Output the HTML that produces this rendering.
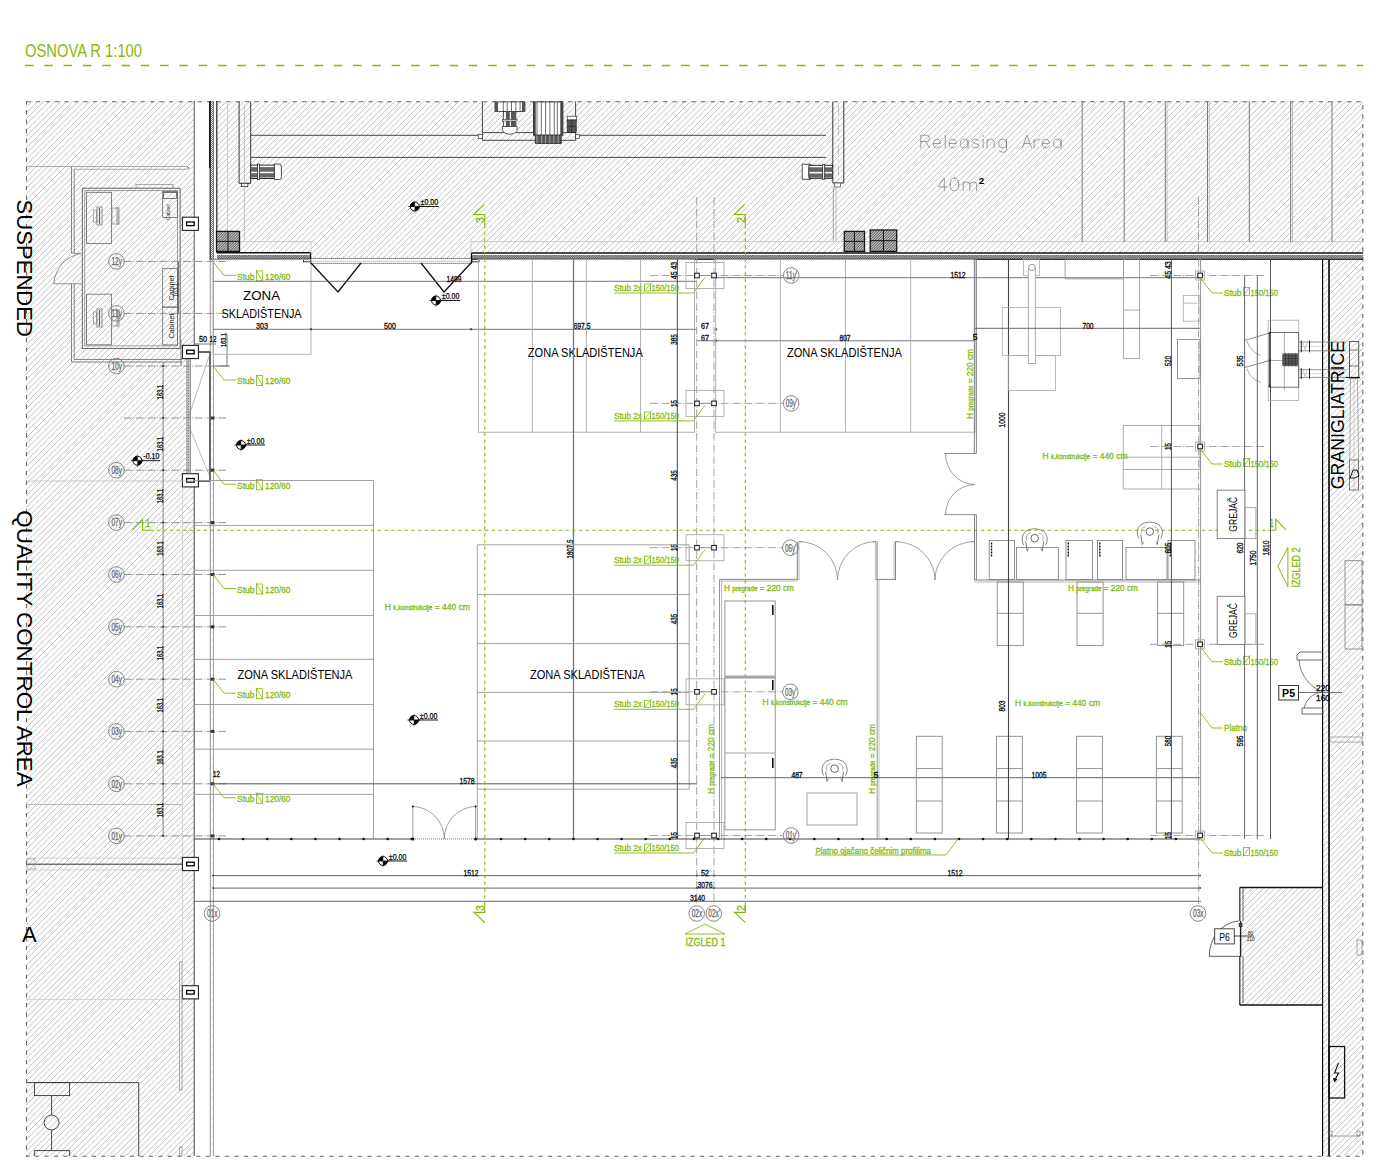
<!DOCTYPE html>
<html><head><meta charset="utf-8"><style>
html,body{margin:0;padding:0;background:#fff;width:1388px;height:1170px;overflow:hidden}
svg{display:block}
text{font-family:"Liberation Sans",sans-serif}
</style></head><body>
<svg width="1388" height="1170" viewBox="0 0 1388 1170">
<rect width="1388" height="1170" fill="#fff"/>
<text x="25" y="57" font-size="18" fill="#83b90b" text-anchor="start" textLength="117" lengthAdjust="spacingAndGlyphs" stroke="none">OSNOVA R 1:100</text>
<line x1="25" y1="65.5" x2="1363" y2="65.5" stroke="#83b90b" stroke-width="1.3" stroke-dasharray="8.5 10.8"/>
<path d="M26.00 101.60L26.60 101.00M26.00 107.40L32.40 101.00M26.00 113.20L38.20 101.00M26.00 119.00L44.00 101.00M26.00 124.80L49.80 101.00M26.00 130.60L55.60 101.00M26.00 136.40L61.40 101.00M26.00 142.20L67.20 101.00M26.00 148.00L73.00 101.00M26.00 153.80L78.80 101.00M26.00 159.60L84.60 101.00M26.00 165.40L90.40 101.00M26.00 171.20L96.20 101.00M26.00 177.00L102.00 101.00M26.00 182.80L107.80 101.00M26.00 188.60L113.60 101.00M26.00 194.40L119.40 101.00M26.00 200.20L125.20 101.00M26.00 206.00L131.00 101.00M26.00 211.80L136.80 101.00M26.00 217.60L142.60 101.00M26.00 223.40L148.40 101.00M26.00 229.20L154.20 101.00M26.00 235.00L160.00 101.00M26.00 240.80L165.80 101.00M26.00 246.60L171.60 101.00M26.00 252.40L177.40 101.00M26.00 258.20L183.20 101.00M26.00 264.00L189.00 101.00M26.00 269.80L194.00 101.80M26.00 275.60L194.00 107.60M26.00 281.40L194.00 113.40M26.00 287.20L194.00 119.20M26.00 293.00L194.00 125.00M26.00 298.80L194.00 130.80M26.00 304.60L194.00 136.60M26.00 310.40L194.00 142.40M26.00 316.20L194.00 148.20M26.00 322.00L194.00 154.00M26.00 327.80L194.00 159.80M26.00 333.60L194.00 165.60M26.00 339.40L194.00 171.40M26.00 345.20L194.00 177.20M26.00 351.00L194.00 183.00M26.00 356.80L194.00 188.80M26.00 362.60L194.00 194.60M26.00 368.40L194.00 200.40M26.00 374.20L194.00 206.20M26.00 380.00L194.00 212.00M26.00 385.80L194.00 217.80M26.00 391.60L194.00 223.60M26.00 397.40L194.00 229.40M26.00 403.20L194.00 235.20M26.00 409.00L194.00 241.00M26.00 414.80L194.00 246.80M26.00 420.60L194.00 252.60M26.00 426.40L194.00 258.40M26.00 432.20L194.00 264.20M26.00 438.00L194.00 270.00M26.00 443.80L194.00 275.80M26.00 449.60L194.00 281.60M26.00 455.40L194.00 287.40M26.00 461.20L194.00 293.20M26.00 467.00L194.00 299.00M26.00 472.80L194.00 304.80M26.00 478.60L194.00 310.60M26.00 484.40L194.00 316.40M26.00 490.20L194.00 322.20M26.00 496.00L194.00 328.00M26.00 501.80L194.00 333.80M26.00 507.60L194.00 339.60M26.00 513.40L194.00 345.40M26.00 519.20L194.00 351.20M26.00 525.00L194.00 357.00M26.00 530.80L194.00 362.80M26.00 536.60L194.00 368.60M26.00 542.40L194.00 374.40M26.00 548.20L194.00 380.20M26.00 554.00L194.00 386.00M26.00 559.80L194.00 391.80M26.00 565.60L194.00 397.60M26.00 571.40L194.00 403.40M26.00 577.20L194.00 409.20M26.00 583.00L194.00 415.00M26.00 588.80L194.00 420.80M26.00 594.60L194.00 426.60M26.00 600.40L194.00 432.40M26.00 606.20L194.00 438.20M26.00 612.00L194.00 444.00M26.00 617.80L194.00 449.80M26.00 623.60L194.00 455.60M26.00 629.40L194.00 461.40M26.00 635.20L194.00 467.20M26.00 641.00L194.00 473.00M26.00 646.80L194.00 478.80M26.00 652.60L194.00 484.60M26.00 658.40L194.00 490.40M26.00 664.20L194.00 496.20M26.00 670.00L194.00 502.00M26.00 675.80L194.00 507.80M26.00 681.60L194.00 513.60M26.00 687.40L194.00 519.40M26.00 693.20L194.00 525.20M26.00 699.00L194.00 531.00M26.00 704.80L194.00 536.80M26.00 710.60L194.00 542.60M26.00 716.40L194.00 548.40M26.00 722.20L194.00 554.20M26.00 728.00L194.00 560.00M26.00 733.80L194.00 565.80M26.00 739.60L194.00 571.60M26.00 745.40L194.00 577.40M26.00 751.20L194.00 583.20M26.00 757.00L194.00 589.00M26.00 762.80L194.00 594.80M26.00 768.60L194.00 600.60M26.00 774.40L194.00 606.40M26.00 780.20L194.00 612.20M26.00 786.00L194.00 618.00M26.00 791.80L194.00 623.80M26.00 797.60L194.00 629.60M26.00 803.40L194.00 635.40M26.00 809.20L194.00 641.20M26.00 815.00L194.00 647.00M26.00 820.80L194.00 652.80M26.00 826.60L194.00 658.60M26.00 832.40L194.00 664.40M26.00 838.20L194.00 670.20M26.00 844.00L194.00 676.00M26.00 849.80L194.00 681.80M26.00 855.60L194.00 687.60M26.00 861.40L194.00 693.40M26.00 867.20L194.00 699.20M26.00 873.00L194.00 705.00M26.00 878.80L194.00 710.80M26.00 884.60L194.00 716.60M26.00 890.40L194.00 722.40M26.00 896.20L194.00 728.20M26.00 902.00L194.00 734.00M26.00 907.80L194.00 739.80M26.00 913.60L194.00 745.60M26.00 919.40L194.00 751.40M26.00 925.20L194.00 757.20M26.00 931.00L194.00 763.00M26.00 936.80L194.00 768.80M26.00 942.60L194.00 774.60M26.00 948.40L194.00 780.40M26.00 954.20L194.00 786.20M26.00 960.00L194.00 792.00M26.00 965.80L194.00 797.80M26.00 971.60L194.00 803.60M26.00 977.40L194.00 809.40M26.00 983.20L194.00 815.20M26.00 989.00L194.00 821.00M26.00 994.80L194.00 826.80M26.00 1000.60L194.00 832.60M26.00 1006.40L194.00 838.40M26.00 1012.20L194.00 844.20M26.00 1018.00L194.00 850.00M26.00 1023.80L194.00 855.80M26.00 1029.60L194.00 861.60M26.00 1035.40L194.00 867.40M26.00 1041.20L194.00 873.20M26.00 1047.00L194.00 879.00M26.00 1052.80L194.00 884.80M26.00 1058.60L194.00 890.60M26.00 1064.40L194.00 896.40M26.00 1070.20L194.00 902.20M26.00 1076.00L194.00 908.00M26.00 1081.80L194.00 913.80M26.00 1087.60L194.00 919.60M26.00 1093.40L194.00 925.40M26.00 1099.20L194.00 931.20M26.00 1105.00L194.00 937.00M26.00 1110.80L194.00 942.80M26.00 1116.60L194.00 948.60M26.00 1122.40L194.00 954.40M26.00 1128.20L194.00 960.20M26.00 1134.00L194.00 966.00M26.00 1139.80L194.00 971.80M26.00 1145.60L194.00 977.60M26.00 1151.40L194.00 983.40M27.20 1156.00L194.00 989.20M33.00 1156.00L194.00 995.00M38.80 1156.00L194.00 1000.80M44.60 1156.00L194.00 1006.60M50.40 1156.00L194.00 1012.40M56.20 1156.00L194.00 1018.20M62.00 1156.00L194.00 1024.00M67.80 1156.00L194.00 1029.80M73.60 1156.00L194.00 1035.60M79.40 1156.00L194.00 1041.40M85.20 1156.00L194.00 1047.20M91.00 1156.00L194.00 1053.00M96.80 1156.00L194.00 1058.80M102.60 1156.00L194.00 1064.60M108.40 1156.00L194.00 1070.40M114.20 1156.00L194.00 1076.20M120.00 1156.00L194.00 1082.00M125.80 1156.00L194.00 1087.80M131.60 1156.00L194.00 1093.60M137.40 1156.00L194.00 1099.40M143.20 1156.00L194.00 1105.20M149.00 1156.00L194.00 1111.00M154.80 1156.00L194.00 1116.80M160.60 1156.00L194.00 1122.60M166.40 1156.00L194.00 1128.40M172.20 1156.00L194.00 1134.20M178.00 1156.00L194.00 1140.00M183.80 1156.00L194.00 1145.80M189.60 1156.00L194.00 1151.60" stroke="#b0b0b0" stroke-width="0.8" fill="none"/>
<path d="M217.00 105.20L221.20 101.00M217.00 111.00L227.00 101.00M217.00 116.80L232.80 101.00M217.00 122.60L238.60 101.00M217.00 128.40L244.40 101.00M217.00 134.20L250.20 101.00M217.00 140.00L256.00 101.00M217.00 145.80L261.80 101.00M217.00 151.60L267.60 101.00M217.00 157.40L273.40 101.00M217.00 163.20L279.20 101.00M217.00 169.00L285.00 101.00M217.00 174.80L290.80 101.00M217.00 180.60L296.60 101.00M217.00 186.40L302.40 101.00M217.00 192.20L308.20 101.00M217.00 198.00L314.00 101.00M217.00 203.80L319.80 101.00M217.00 209.60L325.60 101.00M217.00 215.40L331.40 101.00M217.00 221.20L337.20 101.00M217.00 227.00L343.00 101.00M217.00 232.80L348.80 101.00M217.00 238.60L354.60 101.00M217.00 244.40L360.40 101.00M217.00 250.20L366.20 101.00M220.00 253.00L372.00 101.00M225.80 253.00L377.80 101.00M231.60 253.00L383.60 101.00M237.40 253.00L389.40 101.00M243.20 253.00L395.20 101.00M249.00 253.00L401.00 101.00M254.80 253.00L406.80 101.00M260.60 253.00L412.60 101.00M266.40 253.00L418.40 101.00M272.20 253.00L424.20 101.00M278.00 253.00L430.00 101.00M283.80 253.00L435.80 101.00M289.60 253.00L441.60 101.00M295.40 253.00L447.40 101.00M301.20 253.00L453.20 101.00M307.00 253.00L459.00 101.00M312.80 253.00L464.80 101.00M318.60 253.00L470.60 101.00M324.40 253.00L476.40 101.00M330.20 253.00L482.20 101.00M336.00 253.00L488.00 101.00M341.80 253.00L493.80 101.00M347.60 253.00L499.60 101.00M353.40 253.00L505.40 101.00M359.20 253.00L511.20 101.00M365.00 253.00L517.00 101.00M370.80 253.00L522.80 101.00M376.60 253.00L528.60 101.00M382.40 253.00L534.40 101.00M388.20 253.00L540.20 101.00M394.00 253.00L546.00 101.00M399.80 253.00L551.80 101.00M405.60 253.00L557.60 101.00M411.40 253.00L563.40 101.00M417.20 253.00L569.20 101.00M423.00 253.00L575.00 101.00M428.80 253.00L580.80 101.00M434.60 253.00L586.60 101.00M440.40 253.00L592.40 101.00M446.20 253.00L598.20 101.00M452.00 253.00L604.00 101.00M457.80 253.00L609.80 101.00M463.60 253.00L615.60 101.00M469.40 253.00L621.40 101.00M475.20 253.00L627.20 101.00M481.00 253.00L633.00 101.00M486.80 253.00L638.80 101.00M492.60 253.00L644.60 101.00M498.40 253.00L650.40 101.00M504.20 253.00L656.20 101.00M510.00 253.00L662.00 101.00M515.80 253.00L667.80 101.00M521.60 253.00L673.60 101.00M527.40 253.00L679.40 101.00M533.20 253.00L685.20 101.00M539.00 253.00L691.00 101.00M544.80 253.00L696.80 101.00M550.60 253.00L702.60 101.00M556.40 253.00L708.40 101.00M562.20 253.00L714.20 101.00M568.00 253.00L720.00 101.00M573.80 253.00L725.80 101.00M579.60 253.00L731.60 101.00M585.40 253.00L737.40 101.00M591.20 253.00L743.20 101.00M597.00 253.00L749.00 101.00M602.80 253.00L754.80 101.00M608.60 253.00L760.60 101.00M614.40 253.00L766.40 101.00M620.20 253.00L772.20 101.00M626.00 253.00L778.00 101.00M631.80 253.00L783.80 101.00M637.60 253.00L789.60 101.00M643.40 253.00L795.40 101.00M649.20 253.00L801.20 101.00M655.00 253.00L807.00 101.00M660.80 253.00L812.80 101.00M666.60 253.00L818.60 101.00M672.40 253.00L824.40 101.00M678.20 253.00L830.20 101.00M684.00 253.00L836.00 101.00M689.80 253.00L841.80 101.00M695.60 253.00L847.60 101.00M701.40 253.00L853.40 101.00M707.20 253.00L859.20 101.00M713.00 253.00L865.00 101.00M718.80 253.00L870.80 101.00M724.60 253.00L876.60 101.00M730.40 253.00L882.40 101.00M736.20 253.00L888.20 101.00M742.00 253.00L894.00 101.00M747.80 253.00L899.80 101.00M753.60 253.00L905.60 101.00M759.40 253.00L911.40 101.00M765.20 253.00L917.20 101.00M771.00 253.00L923.00 101.00M776.80 253.00L928.80 101.00M782.60 253.00L934.60 101.00M788.40 253.00L940.40 101.00M794.20 253.00L946.20 101.00M800.00 253.00L952.00 101.00M805.80 253.00L957.80 101.00M811.60 253.00L963.60 101.00M817.40 253.00L969.40 101.00M823.20 253.00L975.20 101.00M829.00 253.00L981.00 101.00M834.80 253.00L986.80 101.00M840.60 253.00L992.60 101.00M846.40 253.00L998.40 101.00M852.20 253.00L1004.20 101.00M858.00 253.00L1010.00 101.00M863.80 253.00L1015.80 101.00M869.60 253.00L1021.60 101.00M875.40 253.00L1027.40 101.00M881.20 253.00L1033.20 101.00M887.00 253.00L1039.00 101.00M892.80 253.00L1044.80 101.00M898.60 253.00L1050.60 101.00M904.40 253.00L1056.40 101.00M910.20 253.00L1062.20 101.00M916.00 253.00L1068.00 101.00M921.80 253.00L1073.80 101.00M927.60 253.00L1079.60 101.00M933.40 253.00L1085.40 101.00M939.20 253.00L1091.20 101.00M945.00 253.00L1097.00 101.00M950.80 253.00L1102.80 101.00M956.60 253.00L1108.60 101.00M962.40 253.00L1114.40 101.00M968.20 253.00L1120.20 101.00M974.00 253.00L1126.00 101.00M979.80 253.00L1131.80 101.00M985.60 253.00L1137.60 101.00M991.40 253.00L1143.40 101.00M997.20 253.00L1149.20 101.00M1003.00 253.00L1155.00 101.00M1008.80 253.00L1160.80 101.00M1014.60 253.00L1166.60 101.00M1020.40 253.00L1172.40 101.00M1026.20 253.00L1178.20 101.00M1032.00 253.00L1184.00 101.00M1037.80 253.00L1189.80 101.00M1043.60 253.00L1195.60 101.00M1049.40 253.00L1201.40 101.00M1055.20 253.00L1207.20 101.00M1061.00 253.00L1213.00 101.00M1066.80 253.00L1218.80 101.00M1072.60 253.00L1224.60 101.00M1078.40 253.00L1230.40 101.00M1084.20 253.00L1236.20 101.00M1090.00 253.00L1242.00 101.00M1095.80 253.00L1247.80 101.00M1101.60 253.00L1253.60 101.00M1107.40 253.00L1259.40 101.00M1113.20 253.00L1265.20 101.00M1119.00 253.00L1271.00 101.00M1124.80 253.00L1276.80 101.00M1130.60 253.00L1282.60 101.00M1136.40 253.00L1288.40 101.00M1142.20 253.00L1294.20 101.00M1148.00 253.00L1300.00 101.00M1153.80 253.00L1305.80 101.00M1159.60 253.00L1311.60 101.00M1165.40 253.00L1317.40 101.00M1171.20 253.00L1323.20 101.00M1177.00 253.00L1329.00 101.00M1182.80 253.00L1334.80 101.00M1188.60 253.00L1340.60 101.00M1194.40 253.00L1346.40 101.00M1200.20 253.00L1352.20 101.00M1206.00 253.00L1358.00 101.00M1211.80 253.00L1363.00 101.80M1217.60 253.00L1363.00 107.60M1223.40 253.00L1363.00 113.40M1229.20 253.00L1363.00 119.20M1235.00 253.00L1363.00 125.00M1240.80 253.00L1363.00 130.80M1246.60 253.00L1363.00 136.60M1252.40 253.00L1363.00 142.40M1258.20 253.00L1363.00 148.20M1264.00 253.00L1363.00 154.00M1269.80 253.00L1363.00 159.80M1275.60 253.00L1363.00 165.60M1281.40 253.00L1363.00 171.40M1287.20 253.00L1363.00 177.20M1293.00 253.00L1363.00 183.00M1298.80 253.00L1363.00 188.80M1304.60 253.00L1363.00 194.60M1310.40 253.00L1363.00 200.40M1316.20 253.00L1363.00 206.20M1322.00 253.00L1363.00 212.00M1327.80 253.00L1363.00 217.80M1333.60 253.00L1363.00 223.60M1339.40 253.00L1363.00 229.40M1345.20 253.00L1363.00 235.20M1351.00 253.00L1363.00 241.00M1356.80 253.00L1363.00 246.80M1362.60 253.00L1363.00 252.60" stroke="#b0b0b0" stroke-width="0.8" fill="none"/>
<path d="M1323.00 260.40L1324.40 259.00M1323.00 266.20L1330.20 259.00M1323.00 272.00L1336.00 259.00M1323.00 277.80L1341.80 259.00M1323.00 283.60L1347.60 259.00M1323.00 289.40L1353.40 259.00M1323.00 295.20L1359.20 259.00M1323.00 301.00L1363.00 261.00M1323.00 306.80L1363.00 266.80M1323.00 312.60L1363.00 272.60M1323.00 318.40L1363.00 278.40M1323.00 324.20L1363.00 284.20M1323.00 330.00L1363.00 290.00M1323.00 335.80L1363.00 295.80M1323.00 341.60L1363.00 301.60M1323.00 347.40L1363.00 307.40M1323.00 353.20L1363.00 313.20M1323.00 359.00L1363.00 319.00M1323.00 364.80L1363.00 324.80M1323.00 370.60L1363.00 330.60M1323.00 376.40L1363.00 336.40M1323.00 382.20L1363.00 342.20M1323.00 388.00L1363.00 348.00M1323.00 393.80L1363.00 353.80M1323.00 399.60L1363.00 359.60M1323.00 405.40L1363.00 365.40M1323.00 411.20L1363.00 371.20M1323.00 417.00L1363.00 377.00M1323.00 422.80L1363.00 382.80M1323.00 428.60L1363.00 388.60M1323.00 434.40L1363.00 394.40M1323.00 440.20L1363.00 400.20M1323.00 446.00L1363.00 406.00M1323.00 451.80L1363.00 411.80M1323.00 457.60L1363.00 417.60M1323.00 463.40L1363.00 423.40M1323.00 469.20L1363.00 429.20M1323.00 475.00L1363.00 435.00M1323.00 480.80L1363.00 440.80M1323.00 486.60L1363.00 446.60M1323.00 492.40L1363.00 452.40M1323.00 498.20L1363.00 458.20M1323.00 504.00L1363.00 464.00M1323.00 509.80L1363.00 469.80M1323.00 515.60L1363.00 475.60M1323.00 521.40L1363.00 481.40M1323.00 527.20L1363.00 487.20M1323.00 533.00L1363.00 493.00M1323.00 538.80L1363.00 498.80M1323.00 544.60L1363.00 504.60M1323.00 550.40L1363.00 510.40M1323.00 556.20L1363.00 516.20M1323.00 562.00L1363.00 522.00M1323.00 567.80L1363.00 527.80M1323.00 573.60L1363.00 533.60M1323.00 579.40L1363.00 539.40M1323.00 585.20L1363.00 545.20M1323.00 591.00L1363.00 551.00M1323.00 596.80L1363.00 556.80M1323.00 602.60L1363.00 562.60M1323.00 608.40L1363.00 568.40M1323.00 614.20L1363.00 574.20M1323.00 620.00L1363.00 580.00M1323.00 625.80L1363.00 585.80M1323.00 631.60L1363.00 591.60M1323.00 637.40L1363.00 597.40M1323.00 643.20L1363.00 603.20M1323.00 649.00L1363.00 609.00M1323.00 654.80L1363.00 614.80M1323.00 660.60L1363.00 620.60M1323.00 666.40L1363.00 626.40M1323.00 672.20L1363.00 632.20M1323.00 678.00L1363.00 638.00M1323.00 683.80L1363.00 643.80M1323.00 689.60L1363.00 649.60M1323.00 695.40L1363.00 655.40M1323.00 701.20L1363.00 661.20M1323.00 707.00L1363.00 667.00M1323.00 712.80L1363.00 672.80M1323.00 718.60L1363.00 678.60M1323.00 724.40L1363.00 684.40M1323.00 730.20L1363.00 690.20M1323.00 736.00L1363.00 696.00M1323.00 741.80L1363.00 701.80M1323.00 747.60L1363.00 707.60M1323.00 753.40L1363.00 713.40M1323.00 759.20L1363.00 719.20M1323.00 765.00L1363.00 725.00M1323.00 770.80L1363.00 730.80M1323.00 776.60L1363.00 736.60M1323.00 782.40L1363.00 742.40M1323.00 788.20L1363.00 748.20M1323.00 794.00L1363.00 754.00M1323.00 799.80L1363.00 759.80M1323.00 805.60L1363.00 765.60M1323.00 811.40L1363.00 771.40M1323.00 817.20L1363.00 777.20M1323.00 823.00L1363.00 783.00M1323.00 828.80L1363.00 788.80M1323.00 834.60L1363.00 794.60M1323.00 840.40L1363.00 800.40M1323.00 846.20L1363.00 806.20M1323.00 852.00L1363.00 812.00M1323.00 857.80L1363.00 817.80M1323.00 863.60L1363.00 823.60M1323.00 869.40L1363.00 829.40M1323.00 875.20L1363.00 835.20M1323.00 881.00L1363.00 841.00M1323.00 886.80L1363.00 846.80M1323.00 892.60L1363.00 852.60M1323.00 898.40L1363.00 858.40M1323.00 904.20L1363.00 864.20M1323.00 910.00L1363.00 870.00M1323.00 915.80L1363.00 875.80M1323.00 921.60L1363.00 881.60M1323.00 927.40L1363.00 887.40M1323.00 933.20L1363.00 893.20M1323.00 939.00L1363.00 899.00M1323.00 944.80L1363.00 904.80M1323.00 950.60L1363.00 910.60M1323.00 956.40L1363.00 916.40M1323.00 962.20L1363.00 922.20M1323.00 968.00L1363.00 928.00M1323.00 973.80L1363.00 933.80M1323.00 979.60L1363.00 939.60M1323.00 985.40L1363.00 945.40M1323.00 991.20L1363.00 951.20M1323.00 997.00L1363.00 957.00M1323.00 1002.80L1363.00 962.80M1323.00 1008.60L1363.00 968.60M1323.00 1014.40L1363.00 974.40M1323.00 1020.20L1363.00 980.20M1323.00 1026.00L1363.00 986.00M1323.00 1031.80L1363.00 991.80M1323.00 1037.60L1363.00 997.60M1323.00 1043.40L1363.00 1003.40M1323.00 1049.20L1363.00 1009.20M1323.00 1055.00L1363.00 1015.00M1323.00 1060.80L1363.00 1020.80M1323.00 1066.60L1363.00 1026.60M1323.00 1072.40L1363.00 1032.40M1323.00 1078.20L1363.00 1038.20M1323.00 1084.00L1363.00 1044.00M1323.00 1089.80L1363.00 1049.80M1323.00 1095.60L1363.00 1055.60M1323.00 1101.40L1363.00 1061.40M1323.00 1107.20L1363.00 1067.20M1323.00 1113.00L1363.00 1073.00M1323.00 1118.80L1363.00 1078.80M1323.00 1124.60L1363.00 1084.60M1323.00 1130.40L1363.00 1090.40M1323.00 1136.20L1363.00 1096.20M1323.00 1142.00L1363.00 1102.00M1323.00 1147.80L1363.00 1107.80M1323.00 1153.60L1363.00 1113.60M1326.40 1156.00L1363.00 1119.40M1332.20 1156.00L1363.00 1125.20M1338.00 1156.00L1363.00 1131.00M1343.80 1156.00L1363.00 1136.80M1349.60 1156.00L1363.00 1142.60M1355.40 1156.00L1363.00 1148.40M1361.20 1156.00L1363.00 1154.20" stroke="#b0b0b0" stroke-width="0.8" fill="none"/>
<path d="M1240.00 888.60L1241.60 887.00M1240.00 894.40L1247.40 887.00M1240.00 900.20L1253.20 887.00M1240.00 906.00L1259.00 887.00M1240.00 911.80L1264.80 887.00M1240.00 917.60L1270.60 887.00M1240.00 923.40L1276.40 887.00M1240.00 929.20L1282.20 887.00M1240.00 935.00L1288.00 887.00M1240.00 940.80L1293.80 887.00M1240.00 946.60L1299.60 887.00M1240.00 952.40L1305.40 887.00M1240.00 958.20L1311.20 887.00M1240.00 964.00L1317.00 887.00M1240.00 969.80L1322.80 887.00M1240.00 975.60L1323.00 892.60M1240.00 981.40L1323.00 898.40M1240.00 987.20L1323.00 904.20M1240.00 993.00L1323.00 910.00M1240.00 998.80L1323.00 915.80M1240.00 1004.60L1323.00 921.60M1245.40 1005.00L1323.00 927.40M1251.20 1005.00L1323.00 933.20M1257.00 1005.00L1323.00 939.00M1262.80 1005.00L1323.00 944.80M1268.60 1005.00L1323.00 950.60M1274.40 1005.00L1323.00 956.40M1280.20 1005.00L1323.00 962.20M1286.00 1005.00L1323.00 968.00M1291.80 1005.00L1323.00 973.80M1297.60 1005.00L1323.00 979.60M1303.40 1005.00L1323.00 985.40M1309.20 1005.00L1323.00 991.20M1315.00 1005.00L1323.00 997.00M1320.80 1005.00L1323.00 1002.80" stroke="#b0b0b0" stroke-width="0.8" fill="none"/>
<path d="M210.00 102.00L211.00 101.00M210.00 104.00L213.00 101.00M210.00 106.00L213.50 102.50M210.00 108.00L213.50 104.50M210.00 110.00L213.50 106.50M210.00 112.00L213.50 108.50M210.00 114.00L213.50 110.50M210.00 116.00L213.50 112.50M210.00 118.00L213.50 114.50M210.00 120.00L213.50 116.50M210.00 122.00L213.50 118.50M210.00 124.00L213.50 120.50M210.00 126.00L213.50 122.50M210.00 128.00L213.50 124.50M210.00 130.00L213.50 126.50M210.00 132.00L213.50 128.50M210.00 134.00L213.50 130.50M210.00 136.00L213.50 132.50M210.00 138.00L213.50 134.50M210.00 140.00L213.50 136.50M210.00 142.00L213.50 138.50M210.00 144.00L213.50 140.50M210.00 146.00L213.50 142.50M210.00 148.00L213.50 144.50M210.00 150.00L213.50 146.50M210.00 152.00L213.50 148.50M210.00 154.00L213.50 150.50M210.00 156.00L213.50 152.50M210.00 158.00L213.50 154.50M210.00 160.00L213.50 156.50M210.00 162.00L213.50 158.50M210.00 164.00L213.50 160.50M210.00 166.00L213.50 162.50M210.00 168.00L213.50 164.50M210.00 170.00L213.50 166.50M210.00 172.00L213.50 168.50M210.00 174.00L213.50 170.50M210.00 176.00L213.50 172.50M210.00 178.00L213.50 174.50M210.00 180.00L213.50 176.50M210.00 182.00L213.50 178.50M210.00 184.00L213.50 180.50M210.00 186.00L213.50 182.50M210.00 188.00L213.50 184.50M210.00 190.00L213.50 186.50M210.00 192.00L213.50 188.50M210.00 194.00L213.50 190.50M210.00 196.00L213.50 192.50M210.00 198.00L213.50 194.50M210.00 200.00L213.50 196.50M210.00 202.00L213.50 198.50M210.00 204.00L213.50 200.50M210.00 206.00L213.50 202.50M210.00 208.00L213.50 204.50M210.00 210.00L213.50 206.50M210.00 212.00L213.50 208.50M210.00 214.00L213.50 210.50M210.00 216.00L213.50 212.50M210.00 218.00L213.50 214.50M210.00 220.00L213.50 216.50M210.00 222.00L213.50 218.50M210.00 224.00L213.50 220.50M210.00 226.00L213.50 222.50M210.00 228.00L213.50 224.50M210.00 230.00L213.50 226.50M210.00 232.00L213.50 228.50M210.00 234.00L213.50 230.50M210.00 236.00L213.50 232.50M210.00 238.00L213.50 234.50M210.00 240.00L213.50 236.50M210.00 242.00L213.50 238.50M210.00 244.00L213.50 240.50M210.00 246.00L213.50 242.50M210.00 248.00L213.50 244.50M210.00 250.00L213.50 246.50M210.00 252.00L213.50 248.50M210.00 254.00L213.50 250.50M210.00 256.00L213.50 252.50M210.00 258.00L213.50 254.50M211.00 259.00L213.50 256.50M213.00 259.00L213.50 258.50" stroke="#555" stroke-width="0.8" fill="none"/>
<rect x="217" y="255" width="94" height="4.5" fill="#bbb"/>
<rect x="471" y="255" width="892" height="4.5" fill="#bbb"/>
<path d="M217.00 256.40L218.40 255.00M217.00 258.20L220.20 255.00M217.50 259.50L222.00 255.00M219.30 259.50L223.80 255.00M221.10 259.50L225.60 255.00M222.90 259.50L227.40 255.00M224.70 259.50L229.20 255.00M226.50 259.50L231.00 255.00M228.30 259.50L232.80 255.00M230.10 259.50L234.60 255.00M231.90 259.50L236.40 255.00M233.70 259.50L238.20 255.00M235.50 259.50L240.00 255.00M237.30 259.50L241.80 255.00M239.10 259.50L243.60 255.00M240.90 259.50L245.40 255.00M242.70 259.50L247.20 255.00M244.50 259.50L249.00 255.00M246.30 259.50L250.80 255.00M248.10 259.50L252.60 255.00M249.90 259.50L254.40 255.00M251.70 259.50L256.20 255.00M253.50 259.50L258.00 255.00M255.30 259.50L259.80 255.00M257.10 259.50L261.60 255.00M258.90 259.50L263.40 255.00M260.70 259.50L265.20 255.00M262.50 259.50L267.00 255.00M264.30 259.50L268.80 255.00M266.10 259.50L270.60 255.00M267.90 259.50L272.40 255.00M269.70 259.50L274.20 255.00M271.50 259.50L276.00 255.00M273.30 259.50L277.80 255.00M275.10 259.50L279.60 255.00M276.90 259.50L281.40 255.00M278.70 259.50L283.20 255.00M280.50 259.50L285.00 255.00M282.30 259.50L286.80 255.00M284.10 259.50L288.60 255.00M285.90 259.50L290.40 255.00M287.70 259.50L292.20 255.00M289.50 259.50L294.00 255.00M291.30 259.50L295.80 255.00M293.10 259.50L297.60 255.00M294.90 259.50L299.40 255.00M296.70 259.50L301.20 255.00M298.50 259.50L303.00 255.00M300.30 259.50L304.80 255.00M302.10 259.50L306.60 255.00M303.90 259.50L308.40 255.00M305.70 259.50L310.20 255.00M307.50 259.50L311.00 256.00M309.30 259.50L311.00 257.80" stroke="#444" stroke-width="0.8" fill="none"/>
<path d="M471.00 256.20L472.20 255.00M471.00 258.00L474.00 255.00M471.30 259.50L475.80 255.00M473.10 259.50L477.60 255.00M474.90 259.50L479.40 255.00M476.70 259.50L481.20 255.00M478.50 259.50L483.00 255.00M480.30 259.50L484.80 255.00M482.10 259.50L486.60 255.00M483.90 259.50L488.40 255.00M485.70 259.50L490.20 255.00M487.50 259.50L492.00 255.00M489.30 259.50L493.80 255.00M491.10 259.50L495.60 255.00M492.90 259.50L497.40 255.00M494.70 259.50L499.20 255.00M496.50 259.50L501.00 255.00M498.30 259.50L502.80 255.00M500.10 259.50L504.60 255.00M501.90 259.50L506.40 255.00M503.70 259.50L508.20 255.00M505.50 259.50L510.00 255.00M507.30 259.50L511.80 255.00M509.10 259.50L513.60 255.00M510.90 259.50L515.40 255.00M512.70 259.50L517.20 255.00M514.50 259.50L519.00 255.00M516.30 259.50L520.80 255.00M518.10 259.50L522.60 255.00M519.90 259.50L524.40 255.00M521.70 259.50L526.20 255.00M523.50 259.50L528.00 255.00M525.30 259.50L529.80 255.00M527.10 259.50L531.60 255.00M528.90 259.50L533.40 255.00M530.70 259.50L535.20 255.00M532.50 259.50L537.00 255.00M534.30 259.50L538.80 255.00M536.10 259.50L540.60 255.00M537.90 259.50L542.40 255.00M539.70 259.50L544.20 255.00M541.50 259.50L546.00 255.00M543.30 259.50L547.80 255.00M545.10 259.50L549.60 255.00M546.90 259.50L551.40 255.00M548.70 259.50L553.20 255.00M550.50 259.50L555.00 255.00M552.30 259.50L556.80 255.00M554.10 259.50L558.60 255.00M555.90 259.50L560.40 255.00M557.70 259.50L562.20 255.00M559.50 259.50L564.00 255.00M561.30 259.50L565.80 255.00M563.10 259.50L567.60 255.00M564.90 259.50L569.40 255.00M566.70 259.50L571.20 255.00M568.50 259.50L573.00 255.00M570.30 259.50L574.80 255.00M572.10 259.50L576.60 255.00M573.90 259.50L578.40 255.00M575.70 259.50L580.20 255.00M577.50 259.50L582.00 255.00M579.30 259.50L583.80 255.00M581.10 259.50L585.60 255.00M582.90 259.50L587.40 255.00M584.70 259.50L589.20 255.00M586.50 259.50L591.00 255.00M588.30 259.50L592.80 255.00M590.10 259.50L594.60 255.00M591.90 259.50L596.40 255.00M593.70 259.50L598.20 255.00M595.50 259.50L600.00 255.00M597.30 259.50L601.80 255.00M599.10 259.50L603.60 255.00M600.90 259.50L605.40 255.00M602.70 259.50L607.20 255.00M604.50 259.50L609.00 255.00M606.30 259.50L610.80 255.00M608.10 259.50L612.60 255.00M609.90 259.50L614.40 255.00M611.70 259.50L616.20 255.00M613.50 259.50L618.00 255.00M615.30 259.50L619.80 255.00M617.10 259.50L621.60 255.00M618.90 259.50L623.40 255.00M620.70 259.50L625.20 255.00M622.50 259.50L627.00 255.00M624.30 259.50L628.80 255.00M626.10 259.50L630.60 255.00M627.90 259.50L632.40 255.00M629.70 259.50L634.20 255.00M631.50 259.50L636.00 255.00M633.30 259.50L637.80 255.00M635.10 259.50L639.60 255.00M636.90 259.50L641.40 255.00M638.70 259.50L643.20 255.00M640.50 259.50L645.00 255.00M642.30 259.50L646.80 255.00M644.10 259.50L648.60 255.00M645.90 259.50L650.40 255.00M647.70 259.50L652.20 255.00M649.50 259.50L654.00 255.00M651.30 259.50L655.80 255.00M653.10 259.50L657.60 255.00M654.90 259.50L659.40 255.00M656.70 259.50L661.20 255.00M658.50 259.50L663.00 255.00M660.30 259.50L664.80 255.00M662.10 259.50L666.60 255.00M663.90 259.50L668.40 255.00M665.70 259.50L670.20 255.00M667.50 259.50L672.00 255.00M669.30 259.50L673.80 255.00M671.10 259.50L675.60 255.00M672.90 259.50L677.40 255.00M674.70 259.50L679.20 255.00M676.50 259.50L681.00 255.00M678.30 259.50L682.80 255.00M680.10 259.50L684.60 255.00M681.90 259.50L686.40 255.00M683.70 259.50L688.20 255.00M685.50 259.50L690.00 255.00M687.30 259.50L691.80 255.00M689.10 259.50L693.60 255.00M690.90 259.50L695.40 255.00M692.70 259.50L697.20 255.00M694.50 259.50L699.00 255.00M696.30 259.50L700.80 255.00M698.10 259.50L702.60 255.00M699.90 259.50L704.40 255.00M701.70 259.50L706.20 255.00M703.50 259.50L708.00 255.00M705.30 259.50L709.80 255.00M707.10 259.50L711.60 255.00M708.90 259.50L713.40 255.00M710.70 259.50L715.20 255.00M712.50 259.50L717.00 255.00M714.30 259.50L718.80 255.00M716.10 259.50L720.60 255.00M717.90 259.50L722.40 255.00M719.70 259.50L724.20 255.00M721.50 259.50L726.00 255.00M723.30 259.50L727.80 255.00M725.10 259.50L729.60 255.00M726.90 259.50L731.40 255.00M728.70 259.50L733.20 255.00M730.50 259.50L735.00 255.00M732.30 259.50L736.80 255.00M734.10 259.50L738.60 255.00M735.90 259.50L740.40 255.00M737.70 259.50L742.20 255.00M739.50 259.50L744.00 255.00M741.30 259.50L745.80 255.00M743.10 259.50L747.60 255.00M744.90 259.50L749.40 255.00M746.70 259.50L751.20 255.00M748.50 259.50L753.00 255.00M750.30 259.50L754.80 255.00M752.10 259.50L756.60 255.00M753.90 259.50L758.40 255.00M755.70 259.50L760.20 255.00M757.50 259.50L762.00 255.00M759.30 259.50L763.80 255.00M761.10 259.50L765.60 255.00M762.90 259.50L767.40 255.00M764.70 259.50L769.20 255.00M766.50 259.50L771.00 255.00M768.30 259.50L772.80 255.00M770.10 259.50L774.60 255.00M771.90 259.50L776.40 255.00M773.70 259.50L778.20 255.00M775.50 259.50L780.00 255.00M777.30 259.50L781.80 255.00M779.10 259.50L783.60 255.00M780.90 259.50L785.40 255.00M782.70 259.50L787.20 255.00M784.50 259.50L789.00 255.00M786.30 259.50L790.80 255.00M788.10 259.50L792.60 255.00M789.90 259.50L794.40 255.00M791.70 259.50L796.20 255.00M793.50 259.50L798.00 255.00M795.30 259.50L799.80 255.00M797.10 259.50L801.60 255.00M798.90 259.50L803.40 255.00M800.70 259.50L805.20 255.00M802.50 259.50L807.00 255.00M804.30 259.50L808.80 255.00M806.10 259.50L810.60 255.00M807.90 259.50L812.40 255.00M809.70 259.50L814.20 255.00M811.50 259.50L816.00 255.00M813.30 259.50L817.80 255.00M815.10 259.50L819.60 255.00M816.90 259.50L821.40 255.00M818.70 259.50L823.20 255.00M820.50 259.50L825.00 255.00M822.30 259.50L826.80 255.00M824.10 259.50L828.60 255.00M825.90 259.50L830.40 255.00M827.70 259.50L832.20 255.00M829.50 259.50L834.00 255.00M831.30 259.50L835.80 255.00M833.10 259.50L837.60 255.00M834.90 259.50L839.40 255.00M836.70 259.50L841.20 255.00M838.50 259.50L843.00 255.00M840.30 259.50L844.80 255.00M842.10 259.50L846.60 255.00M843.90 259.50L848.40 255.00M845.70 259.50L850.20 255.00M847.50 259.50L852.00 255.00M849.30 259.50L853.80 255.00M851.10 259.50L855.60 255.00M852.90 259.50L857.40 255.00M854.70 259.50L859.20 255.00M856.50 259.50L861.00 255.00M858.30 259.50L862.80 255.00M860.10 259.50L864.60 255.00M861.90 259.50L866.40 255.00M863.70 259.50L868.20 255.00M865.50 259.50L870.00 255.00M867.30 259.50L871.80 255.00M869.10 259.50L873.60 255.00M870.90 259.50L875.40 255.00M872.70 259.50L877.20 255.00M874.50 259.50L879.00 255.00M876.30 259.50L880.80 255.00M878.10 259.50L882.60 255.00M879.90 259.50L884.40 255.00M881.70 259.50L886.20 255.00M883.50 259.50L888.00 255.00M885.30 259.50L889.80 255.00M887.10 259.50L891.60 255.00M888.90 259.50L893.40 255.00M890.70 259.50L895.20 255.00M892.50 259.50L897.00 255.00M894.30 259.50L898.80 255.00M896.10 259.50L900.60 255.00M897.90 259.50L902.40 255.00M899.70 259.50L904.20 255.00M901.50 259.50L906.00 255.00M903.30 259.50L907.80 255.00M905.10 259.50L909.60 255.00M906.90 259.50L911.40 255.00M908.70 259.50L913.20 255.00M910.50 259.50L915.00 255.00M912.30 259.50L916.80 255.00M914.10 259.50L918.60 255.00M915.90 259.50L920.40 255.00M917.70 259.50L922.20 255.00M919.50 259.50L924.00 255.00M921.30 259.50L925.80 255.00M923.10 259.50L927.60 255.00M924.90 259.50L929.40 255.00M926.70 259.50L931.20 255.00M928.50 259.50L933.00 255.00M930.30 259.50L934.80 255.00M932.10 259.50L936.60 255.00M933.90 259.50L938.40 255.00M935.70 259.50L940.20 255.00M937.50 259.50L942.00 255.00M939.30 259.50L943.80 255.00M941.10 259.50L945.60 255.00M942.90 259.50L947.40 255.00M944.70 259.50L949.20 255.00M946.50 259.50L951.00 255.00M948.30 259.50L952.80 255.00M950.10 259.50L954.60 255.00M951.90 259.50L956.40 255.00M953.70 259.50L958.20 255.00M955.50 259.50L960.00 255.00M957.30 259.50L961.80 255.00M959.10 259.50L963.60 255.00M960.90 259.50L965.40 255.00M962.70 259.50L967.20 255.00M964.50 259.50L969.00 255.00M966.30 259.50L970.80 255.00M968.10 259.50L972.60 255.00M969.90 259.50L974.40 255.00M971.70 259.50L976.20 255.00M973.50 259.50L978.00 255.00M975.30 259.50L979.80 255.00M977.10 259.50L981.60 255.00M978.90 259.50L983.40 255.00M980.70 259.50L985.20 255.00M982.50 259.50L987.00 255.00M984.30 259.50L988.80 255.00M986.10 259.50L990.60 255.00M987.90 259.50L992.40 255.00M989.70 259.50L994.20 255.00M991.50 259.50L996.00 255.00M993.30 259.50L997.80 255.00M995.10 259.50L999.60 255.00M996.90 259.50L1001.40 255.00M998.70 259.50L1003.20 255.00M1000.50 259.50L1005.00 255.00M1002.30 259.50L1006.80 255.00M1004.10 259.50L1008.60 255.00M1005.90 259.50L1010.40 255.00M1007.70 259.50L1012.20 255.00M1009.50 259.50L1014.00 255.00M1011.30 259.50L1015.80 255.00M1013.10 259.50L1017.60 255.00M1014.90 259.50L1019.40 255.00M1016.70 259.50L1021.20 255.00M1018.50 259.50L1023.00 255.00M1020.30 259.50L1024.80 255.00M1022.10 259.50L1026.60 255.00M1023.90 259.50L1028.40 255.00M1025.70 259.50L1030.20 255.00M1027.50 259.50L1032.00 255.00M1029.30 259.50L1033.80 255.00M1031.10 259.50L1035.60 255.00M1032.90 259.50L1037.40 255.00M1034.70 259.50L1039.20 255.00M1036.50 259.50L1041.00 255.00M1038.30 259.50L1042.80 255.00M1040.10 259.50L1044.60 255.00M1041.90 259.50L1046.40 255.00M1043.70 259.50L1048.20 255.00M1045.50 259.50L1050.00 255.00M1047.30 259.50L1051.80 255.00M1049.10 259.50L1053.60 255.00M1050.90 259.50L1055.40 255.00M1052.70 259.50L1057.20 255.00M1054.50 259.50L1059.00 255.00M1056.30 259.50L1060.80 255.00M1058.10 259.50L1062.60 255.00M1059.90 259.50L1064.40 255.00M1061.70 259.50L1066.20 255.00M1063.50 259.50L1068.00 255.00M1065.30 259.50L1069.80 255.00M1067.10 259.50L1071.60 255.00M1068.90 259.50L1073.40 255.00M1070.70 259.50L1075.20 255.00M1072.50 259.50L1077.00 255.00M1074.30 259.50L1078.80 255.00M1076.10 259.50L1080.60 255.00M1077.90 259.50L1082.40 255.00M1079.70 259.50L1084.20 255.00M1081.50 259.50L1086.00 255.00M1083.30 259.50L1087.80 255.00M1085.10 259.50L1089.60 255.00M1086.90 259.50L1091.40 255.00M1088.70 259.50L1093.20 255.00M1090.50 259.50L1095.00 255.00M1092.30 259.50L1096.80 255.00M1094.10 259.50L1098.60 255.00M1095.90 259.50L1100.40 255.00M1097.70 259.50L1102.20 255.00M1099.50 259.50L1104.00 255.00M1101.30 259.50L1105.80 255.00M1103.10 259.50L1107.60 255.00M1104.90 259.50L1109.40 255.00M1106.70 259.50L1111.20 255.00M1108.50 259.50L1113.00 255.00M1110.30 259.50L1114.80 255.00M1112.10 259.50L1116.60 255.00M1113.90 259.50L1118.40 255.00M1115.70 259.50L1120.20 255.00M1117.50 259.50L1122.00 255.00M1119.30 259.50L1123.80 255.00M1121.10 259.50L1125.60 255.00M1122.90 259.50L1127.40 255.00M1124.70 259.50L1129.20 255.00M1126.50 259.50L1131.00 255.00M1128.30 259.50L1132.80 255.00M1130.10 259.50L1134.60 255.00M1131.90 259.50L1136.40 255.00M1133.70 259.50L1138.20 255.00M1135.50 259.50L1140.00 255.00M1137.30 259.50L1141.80 255.00M1139.10 259.50L1143.60 255.00M1140.90 259.50L1145.40 255.00M1142.70 259.50L1147.20 255.00M1144.50 259.50L1149.00 255.00M1146.30 259.50L1150.80 255.00M1148.10 259.50L1152.60 255.00M1149.90 259.50L1154.40 255.00M1151.70 259.50L1156.20 255.00M1153.50 259.50L1158.00 255.00M1155.30 259.50L1159.80 255.00M1157.10 259.50L1161.60 255.00M1158.90 259.50L1163.40 255.00M1160.70 259.50L1165.20 255.00M1162.50 259.50L1167.00 255.00M1164.30 259.50L1168.80 255.00M1166.10 259.50L1170.60 255.00M1167.90 259.50L1172.40 255.00M1169.70 259.50L1174.20 255.00M1171.50 259.50L1176.00 255.00M1173.30 259.50L1177.80 255.00M1175.10 259.50L1179.60 255.00M1176.90 259.50L1181.40 255.00M1178.70 259.50L1183.20 255.00M1180.50 259.50L1185.00 255.00M1182.30 259.50L1186.80 255.00M1184.10 259.50L1188.60 255.00M1185.90 259.50L1190.40 255.00M1187.70 259.50L1192.20 255.00M1189.50 259.50L1194.00 255.00M1191.30 259.50L1195.80 255.00M1193.10 259.50L1197.60 255.00M1194.90 259.50L1199.40 255.00M1196.70 259.50L1201.20 255.00M1198.50 259.50L1203.00 255.00M1200.30 259.50L1204.80 255.00M1202.10 259.50L1206.60 255.00M1203.90 259.50L1208.40 255.00M1205.70 259.50L1210.20 255.00M1207.50 259.50L1212.00 255.00M1209.30 259.50L1213.80 255.00M1211.10 259.50L1215.60 255.00M1212.90 259.50L1217.40 255.00M1214.70 259.50L1219.20 255.00M1216.50 259.50L1221.00 255.00M1218.30 259.50L1222.80 255.00M1220.10 259.50L1224.60 255.00M1221.90 259.50L1226.40 255.00M1223.70 259.50L1228.20 255.00M1225.50 259.50L1230.00 255.00M1227.30 259.50L1231.80 255.00M1229.10 259.50L1233.60 255.00M1230.90 259.50L1235.40 255.00M1232.70 259.50L1237.20 255.00M1234.50 259.50L1239.00 255.00M1236.30 259.50L1240.80 255.00M1238.10 259.50L1242.60 255.00M1239.90 259.50L1244.40 255.00M1241.70 259.50L1246.20 255.00M1243.50 259.50L1248.00 255.00M1245.30 259.50L1249.80 255.00M1247.10 259.50L1251.60 255.00M1248.90 259.50L1253.40 255.00M1250.70 259.50L1255.20 255.00M1252.50 259.50L1257.00 255.00M1254.30 259.50L1258.80 255.00M1256.10 259.50L1260.60 255.00M1257.90 259.50L1262.40 255.00M1259.70 259.50L1264.20 255.00M1261.50 259.50L1266.00 255.00M1263.30 259.50L1267.80 255.00M1265.10 259.50L1269.60 255.00M1266.90 259.50L1271.40 255.00M1268.70 259.50L1273.20 255.00M1270.50 259.50L1275.00 255.00M1272.30 259.50L1276.80 255.00M1274.10 259.50L1278.60 255.00M1275.90 259.50L1280.40 255.00M1277.70 259.50L1282.20 255.00M1279.50 259.50L1284.00 255.00M1281.30 259.50L1285.80 255.00M1283.10 259.50L1287.60 255.00M1284.90 259.50L1289.40 255.00M1286.70 259.50L1291.20 255.00M1288.50 259.50L1293.00 255.00M1290.30 259.50L1294.80 255.00M1292.10 259.50L1296.60 255.00M1293.90 259.50L1298.40 255.00M1295.70 259.50L1300.20 255.00M1297.50 259.50L1302.00 255.00M1299.30 259.50L1303.80 255.00M1301.10 259.50L1305.60 255.00M1302.90 259.50L1307.40 255.00M1304.70 259.50L1309.20 255.00M1306.50 259.50L1311.00 255.00M1308.30 259.50L1312.80 255.00M1310.10 259.50L1314.60 255.00M1311.90 259.50L1316.40 255.00M1313.70 259.50L1318.20 255.00M1315.50 259.50L1320.00 255.00M1317.30 259.50L1321.80 255.00M1319.10 259.50L1323.60 255.00M1320.90 259.50L1325.40 255.00M1322.70 259.50L1327.20 255.00M1324.50 259.50L1329.00 255.00M1326.30 259.50L1330.80 255.00M1328.10 259.50L1332.60 255.00M1329.90 259.50L1334.40 255.00M1331.70 259.50L1336.20 255.00M1333.50 259.50L1338.00 255.00M1335.30 259.50L1339.80 255.00M1337.10 259.50L1341.60 255.00M1338.90 259.50L1343.40 255.00M1340.70 259.50L1345.20 255.00M1342.50 259.50L1347.00 255.00M1344.30 259.50L1348.80 255.00M1346.10 259.50L1350.60 255.00M1347.90 259.50L1352.40 255.00M1349.70 259.50L1354.20 255.00M1351.50 259.50L1356.00 255.00M1353.30 259.50L1357.80 255.00M1355.10 259.50L1359.60 255.00M1356.90 259.50L1361.40 255.00M1358.70 259.50L1363.00 255.20M1360.50 259.50L1363.00 257.00M1362.30 259.50L1363.00 258.80" stroke="#444" stroke-width="0.8" fill="none"/>
<path d="M311.00 254.80L312.80 253.00M313.30 258.30L318.60 253.00M319.10 258.30L324.40 253.00M324.90 258.30L330.20 253.00M330.70 258.30L336.00 253.00M336.50 258.30L341.80 253.00M342.30 258.30L347.60 253.00M348.10 258.30L353.40 253.00M353.90 258.30L359.20 253.00M359.70 258.30L365.00 253.00M365.50 258.30L370.80 253.00M371.30 258.30L376.60 253.00M377.10 258.30L382.40 253.00M382.90 258.30L388.20 253.00M388.70 258.30L394.00 253.00M394.50 258.30L399.80 253.00M400.30 258.30L405.60 253.00M406.10 258.30L411.40 253.00M411.90 258.30L417.20 253.00M417.70 258.30L423.00 253.00M423.50 258.30L428.80 253.00M429.30 258.30L434.60 253.00M435.10 258.30L440.40 253.00M440.90 258.30L446.20 253.00M446.70 258.30L452.00 253.00M452.50 258.30L457.80 253.00M458.30 258.30L463.60 253.00M464.10 258.30L469.40 253.00M469.90 258.30L471.00 257.20" stroke="#b0b0b0" stroke-width="0.8" fill="none"/>
<rect x="26.5" y="101.7" width="1336.3" height="1054.5" stroke="#666" stroke-width="1.1" fill="none" stroke-dasharray="4.3 5.2"/>
<line x1="210.2" y1="101" x2="210.2" y2="260" stroke="#222" stroke-width="1.2"/>
<line x1="209.8" y1="101" x2="209.8" y2="168" stroke="#111" stroke-width="1.4"/>
<line x1="213.3" y1="101" x2="213.3" y2="259" stroke="#444" stroke-width="0.8"/>
<line x1="216.8" y1="101" x2="216.8" y2="253" stroke="#222" stroke-width="1.2"/>
<line x1="217" y1="252.8" x2="311" y2="252.8" stroke="#111" stroke-width="1.4"/>
<line x1="471" y1="253" x2="1363" y2="253" stroke="#111" stroke-width="1.4"/>
<line x1="210" y1="259.3" x2="311" y2="259.3" stroke="#333" stroke-width="1.2"/>
<line x1="471" y1="259.3" x2="1363" y2="259.3" stroke="#333" stroke-width="1.2"/>
<line x1="310.5" y1="258.4" x2="472" y2="258.4" stroke="#222" stroke-width="0.9" stroke-dasharray="1.2 0.8"/>
<line x1="310.5" y1="261.3" x2="472" y2="261.3" stroke="#888" stroke-width="0.8" stroke-dasharray="1.2 0.8"/>
<line x1="310.5" y1="263.4" x2="472" y2="263.4" stroke="#333" stroke-width="0.9" stroke-dasharray="1.2 0.8"/>
<line x1="310.6" y1="252.5" x2="310.6" y2="263.5" stroke="#111" stroke-width="1.3"/>
<line x1="471.5" y1="252.5" x2="471.5" y2="263.5" stroke="#111" stroke-width="1.3"/>
<rect x="303.5" y="259.3" width="7" height="2.5" stroke="#222" stroke-width="0.9" fill="#fff" />
<rect x="472" y="259.3" width="7" height="2.5" stroke="#222" stroke-width="0.9" fill="#fff" />
<line x1="239" y1="241.6" x2="311" y2="241.6" stroke="#ccc" stroke-width="1"/>
<line x1="471" y1="241.6" x2="1363" y2="241.6" stroke="#ccc" stroke-width="1"/>
<line x1="227.5" y1="101" x2="227.5" y2="241" stroke="#ccc" stroke-width="1"/>
<line x1="311" y1="241.6" x2="311" y2="253" stroke="#ccc" stroke-width="1"/>
<line x1="471" y1="241.6" x2="471" y2="253" stroke="#ccc" stroke-width="1"/>
<path d="M239.1 101.5V183.3H250.7V101.5" stroke="#222" stroke-width="0.9" fill="none" />
<rect x="241.3" y="183.3" width="6.6" height="3.3" stroke="#222" stroke-width="0.8" fill="#fff" />
<line x1="244.4" y1="106" x2="244.4" y2="240" stroke="#aaa" stroke-width="0.7"/>
<path d="M832.8 101.5V183H843.8V101.5" stroke="#222" stroke-width="0.9" fill="none" />
<rect x="834.5" y="183" width="6" height="4" stroke="#444" stroke-width="0.7" fill="#fff" />
<line x1="833.3" y1="187" x2="833.3" y2="241" stroke="#666" stroke-width="0.6"/>
<line x1="836" y1="187" x2="836" y2="241" stroke="#999" stroke-width="0.6"/>
<line x1="838.5" y1="105" x2="838.5" y2="180" stroke="#999" stroke-width="0.6" stroke-dasharray="10 4 2 4"/>
<line x1="251" y1="135.3" x2="482" y2="135.3" stroke="#333" stroke-width="0.9"/>
<line x1="576" y1="135.3" x2="826" y2="135.3" stroke="#333" stroke-width="0.9"/>
<line x1="251" y1="157.4" x2="826" y2="157.4" stroke="#333" stroke-width="0.9"/>
<rect x="250.7" y="165.1" width="23.69999999999999" height="13.400000000000006" fill="#fff" stroke="#111" stroke-width="0.9"/>
<rect x="250.7" y="167.1" width="23.69999999999999" height="4.6" fill="#666"/>
<rect x="250.7" y="173.2" width="23.69999999999999" height="4.3" fill="#666"/>
<rect x="257.5" y="164.1" width="2" height="15.400000000000006" stroke="#222" stroke-width="0.8" fill="#fff" />
<path d="M274.4 164.1H279.4Q281.4 164.1 281.4 167.1V176.5Q281.4 179.5 279.4 179.5H274.4Z" stroke="#222" stroke-width="0.8" fill="#fff" />
<rect x="808.7" y="165.3" width="23.899999999999977" height="13.0" fill="#fff" stroke="#111" stroke-width="0.9"/>
<rect x="808.7" y="167.3" width="23.899999999999977" height="4.6" fill="#666"/>
<rect x="808.7" y="173.4" width="23.899999999999977" height="4.3" fill="#666"/>
<rect x="822.7" y="164.3" width="2" height="15.0" stroke="#222" stroke-width="0.8" fill="#fff" />
<path d="M802.2 164.3H810.7Q808.7 164.3 808.7 167.3V176.3Q808.7 179.3 810.7 179.3H802.2Z" stroke="#222" stroke-width="0.8" fill="#fff" />
<line x1="482.4" y1="101.5" x2="482.4" y2="140.3" stroke="#333" stroke-width="0.9"/>
<line x1="575.6" y1="101.5" x2="575.6" y2="140.3" stroke="#333" stroke-width="0.9"/>
<line x1="482.4" y1="140.3" x2="535" y2="140.3" stroke="#333" stroke-width="0.9"/>
<line x1="561" y1="140.3" x2="575.6" y2="140.3" stroke="#333" stroke-width="0.9"/>
<line x1="482.4" y1="132.6" x2="533.5" y2="132.6" stroke="#333" stroke-width="0.9"/>
<line x1="563" y1="132.6" x2="575.6" y2="132.6" stroke="#333" stroke-width="0.9"/>
<rect x="478.2" y="134.7" width="4.2" height="3.9" stroke="#333" stroke-width="0.7" fill="#fff" />
<rect x="575.6" y="134.7" width="3.7" height="3.9" stroke="#333" stroke-width="0.7" fill="#fff" />
<rect x="495" y="101.9" width="29.9" height="9.5" fill="#fff" stroke="#222" stroke-width="0.8"/>
<rect x="495" y="101.9" width="3" height="9.5" fill="#555"/>
<rect x="522" y="101.9" width="3" height="9.5" fill="#555"/>
<line x1="503.3" y1="101.9" x2="503.3" y2="111.4" stroke="#333" stroke-width="0.7"/>
<line x1="507.2" y1="101.9" x2="507.2" y2="111.4" stroke="#333" stroke-width="0.7"/>
<line x1="511.5" y1="101.9" x2="511.5" y2="111.4" stroke="#333" stroke-width="0.7"/>
<line x1="515.8" y1="101.9" x2="515.8" y2="111.4" stroke="#333" stroke-width="0.7"/>
<line x1="520.1" y1="101.9" x2="520.1" y2="111.4" stroke="#333" stroke-width="0.7"/>
<rect x="503.3" y="111.4" width="12.5" height="15.1" fill="#fff" stroke="#222" stroke-width="0.8"/>
<rect x="505.9" y="111.4" width="3.9" height="15.1" fill="#555"/>
<rect x="511" y="111.4" width="4.8" height="15.1" fill="#555"/>
<rect x="502.4" y="119.6" width="14.7" height="1.4" stroke="#333" stroke-width="0.6" fill="#fff" />
<path d="M502.4 126.5h14.7v4q-2 3.8 -7.35 3.8q-5.35 0 -7.35 -3.8z" stroke="#333" stroke-width="0.8" fill="#fff" />
<rect x="533.5" y="101.9" width="29.4" height="33.3" fill="#fff" stroke="#222" stroke-width="0.9"/>
<rect x="533.5" y="101.9" width="2.2" height="33.3" fill="#444"/>
<rect x="560.3" y="101.9" width="2.6" height="33.3" fill="#444"/>
<line x1="537" y1="101.9" x2="537" y2="135.2" stroke="#333" stroke-width="0.7"/>
<line x1="541.3" y1="101.9" x2="541.3" y2="135.2" stroke="#333" stroke-width="0.7"/>
<line x1="545.6" y1="101.9" x2="545.6" y2="135.2" stroke="#333" stroke-width="0.7"/>
<line x1="549.9" y1="101.9" x2="549.9" y2="135.2" stroke="#333" stroke-width="0.7"/>
<line x1="554.3" y1="101.9" x2="554.3" y2="135.2" stroke="#333" stroke-width="0.7"/>
<line x1="557.3" y1="101.9" x2="557.3" y2="135.2" stroke="#333" stroke-width="0.7"/>
<rect x="535.3" y="135.2" width="25.9" height="8.2" fill="#555" stroke="#222" stroke-width="0.8"/>
<line x1="537" y1="135.2" x2="537" y2="143.4" stroke="#ddd" stroke-width="0.6"/>
<line x1="541.7" y1="135.2" x2="541.7" y2="143.4" stroke="#ddd" stroke-width="0.6"/>
<line x1="545.6" y1="135.2" x2="545.6" y2="143.4" stroke="#ddd" stroke-width="0.6"/>
<line x1="549.9" y1="135.2" x2="549.9" y2="143.4" stroke="#ddd" stroke-width="0.6"/>
<line x1="553.8" y1="135.2" x2="553.8" y2="143.4" stroke="#ddd" stroke-width="0.6"/>
<line x1="558.2" y1="135.2" x2="558.2" y2="143.4" stroke="#ddd" stroke-width="0.6"/>
<rect x="567.2" y="116.2" width="9.5" height="3.8" fill="#fff" stroke="#333" stroke-width="0.7"/>
<rect x="567.2" y="120" width="9" height="12.6" fill="#555" stroke="#222" stroke-width="0.7"/>
<line x1="571.7" y1="120" x2="571.7" y2="132.6" stroke="#222" stroke-width="0.6"/>
<line x1="567.2" y1="126.4" x2="576.2" y2="126.4" stroke="#222" stroke-width="0.6"/>
<rect x="216.5" y="231.4" width="23" height="20" fill="#bbb" stroke="#111" stroke-width="1.3"/>
<path d="M216.50 233.30L218.40 231.40M216.50 235.90L221.00 231.40M216.50 238.50L223.60 231.40M216.50 241.10L226.20 231.40M216.50 243.70L228.80 231.40M216.50 246.30L231.40 231.40M216.50 248.90L234.00 231.40M216.60 251.40L236.60 231.40M219.20 251.40L239.20 231.40M221.80 251.40L239.50 233.70M224.40 251.40L239.50 236.30M227.00 251.40L239.50 238.90M229.60 251.40L239.50 241.50M232.20 251.40L239.50 244.10M234.80 251.40L239.50 246.70M237.40 251.40L239.50 249.30" stroke="#333" stroke-width="0.7" fill="none"/>
<line x1="228.0" y1="231.4" x2="228.0" y2="251.4" stroke="#111" stroke-width="1"/>
<line x1="216.5" y1="241.4" x2="239.5" y2="241.4" stroke="#111" stroke-width="1"/>
<rect x="844.3" y="231.4" width="20.2" height="20" fill="#bbb" stroke="#111" stroke-width="1.3"/>
<path d="M844.30 232.10L845.00 231.40M844.30 234.70L847.60 231.40M844.30 237.30L850.20 231.40M844.30 239.90L852.80 231.40M844.30 242.50L855.40 231.40M844.30 245.10L858.00 231.40M844.30 247.70L860.60 231.40M844.30 250.30L863.20 231.40M845.80 251.40L864.50 232.70M848.40 251.40L864.50 235.30M851.00 251.40L864.50 237.90M853.60 251.40L864.50 240.50M856.20 251.40L864.50 243.10M858.80 251.40L864.50 245.70M861.40 251.40L864.50 248.30M864.00 251.40L864.50 250.90" stroke="#333" stroke-width="0.7" fill="none"/>
<line x1="854.4" y1="231.4" x2="854.4" y2="251.4" stroke="#111" stroke-width="1"/>
<line x1="844.3" y1="241.4" x2="864.5" y2="241.4" stroke="#111" stroke-width="1"/>
<rect x="870.2" y="230" width="26.5" height="21.4" fill="#bbb" stroke="#111" stroke-width="1.3"/>
<path d="M870.20 232.20L872.40 230.00M870.20 234.80L875.00 230.00M870.20 237.40L877.60 230.00M870.20 240.00L880.20 230.00M870.20 242.60L882.80 230.00M870.20 245.20L885.40 230.00M870.20 247.80L888.00 230.00M870.20 250.40L890.60 230.00M871.80 251.40L893.20 230.00M874.40 251.40L895.80 230.00M877.00 251.40L896.70 231.70M879.60 251.40L896.70 234.30M882.20 251.40L896.70 236.90M884.80 251.40L896.70 239.50M887.40 251.40L896.70 242.10M890.00 251.40L896.70 244.70M892.60 251.40L896.70 247.30M895.20 251.40L896.70 249.90" stroke="#333" stroke-width="0.7" fill="none"/>
<line x1="883.45" y1="230" x2="883.45" y2="251.4" stroke="#111" stroke-width="1"/>
<line x1="870.2" y1="240.7" x2="896.7" y2="240.7" stroke="#111" stroke-width="1"/>
<line x1="1082.2" y1="101" x2="1082.2" y2="242" stroke="#777" stroke-width="1"/>
<line x1="1124.2" y1="101" x2="1124.2" y2="242" stroke="#777" stroke-width="1"/>
<line x1="1165.3" y1="101" x2="1165.3" y2="242" stroke="#777" stroke-width="1"/>
<line x1="1207.5" y1="101" x2="1207.5" y2="242" stroke="#777" stroke-width="1"/>
<line x1="1249.3" y1="101" x2="1249.3" y2="242" stroke="#777" stroke-width="1"/>
<line x1="1290.7" y1="101" x2="1290.7" y2="242" stroke="#777" stroke-width="1"/>
<line x1="1332.0" y1="101" x2="1332.0" y2="242" stroke="#777" stroke-width="1"/>
<line x1="1167.1" y1="101" x2="1167.1" y2="242" stroke="#aaa" stroke-width="0.7"/>
<line x1="1209.3" y1="101" x2="1209.3" y2="242" stroke="#aaa" stroke-width="0.7"/>
<line x1="1292.5" y1="101" x2="1292.5" y2="242" stroke="#aaa" stroke-width="0.7"/>
<path d="M920.8 147.9V135.20000000000002H926.4Q929.4 135.20000000000002 929.4 138.3Q929.4 141.50000000000003 926.4 141.50000000000003H920.8M925.8 141.50000000000003L929.4 147.9M933.5 143.55H940.5Q940.5 139.20000000000002 937.0 139.20000000000002Q933.5 139.20000000000002 933.5 143.55Q933.5 147.9 937.0 147.9Q939.1 147.9 940.5 146.3M945.2 135.20000000000002V147.9M949.2 143.55H956.2Q956.2 139.20000000000002 952.7 139.20000000000002Q949.2 139.20000000000002 949.2 143.55Q949.2 147.9 952.7 147.9Q954.8000000000001 147.9 956.2 146.3M968.0 139.20000000000002V147.9M968.0 143.55Q968.0 139.20000000000002 964.15 139.20000000000002Q960.3 139.20000000000002 960.3 143.55Q960.3 147.9 964.15 147.9Q968.0 147.9 968.0 143.55M978.7 140.60000000000002Q977.6 139.20000000000002 975.5 139.20000000000002Q972.3 139.20000000000002 972.3 141.4Q972.3 143.15 975.5 143.55Q979 144.05 979 145.8Q979 147.9 975.5 147.9Q973 147.9 972 146.4M983.2 139.20000000000002V147.9M983.2 135.60000000000002v0.9M987.1 139.20000000000002V147.9M987.1 142.20000000000002Q988.1 139.20000000000002 990.6 139.20000000000002Q994.1 139.20000000000002 994.1 142.20000000000002V147.9M1006.5 139.20000000000002V149.5Q1006.5 152.3 1002.65 152.3Q1000.0 152.3 999.1999999999999 150.6M1006.5 143.55Q1006.5 139.20000000000002 1002.65 139.20000000000002Q998.8 139.20000000000002 998.8 143.55Q998.8 147.9 1002.65 147.9Q1006.5 147.9 1006.5 143.55M1022.3 147.9L1026.95 135.20000000000002L1031.6 147.9M1024.067 143.455H1029.8329999999999M1034 139.20000000000002V147.9M1034 142.50000000000003Q1035.5 139.20000000000002 1039.6 139.20000000000002M1042.2 143.55H1049.2Q1049.2 139.20000000000002 1045.7 139.20000000000002Q1042.2 139.20000000000002 1042.2 143.55Q1042.2 147.9 1045.7 147.9Q1047.8 147.9 1049.2 146.3M1061.1000000000001 139.20000000000002V147.9M1061.1000000000001 143.55Q1061.1000000000001 139.20000000000002 1057.25 139.20000000000002Q1053.4 139.20000000000002 1053.4 143.55Q1053.4 147.9 1057.25 147.9Q1061.1000000000001 147.9 1061.1000000000001 143.55M944.297 190.8V177.9L938.2 186.93H947.3000000000001M954.45 177.9Q950.1 177.9 950.1 184.86V183.84Q950.1 190.8 954.45 190.8Q958.8000000000001 190.8 958.8000000000001 183.84V184.86Q958.8000000000001 177.9 954.45 177.9ZM963.1 181.9V190.8M963.1 184.5Q963.9 181.9 966.475 181.9Q969.85 181.9 969.85 184.5V190.8M969.85 184.5Q970.65 181.9 973.225 181.9Q976.6 181.9 976.6 184.5V190.8" fill="none" stroke="#8a8a8a" stroke-width="0.85" stroke-linejoin="round" stroke-linecap="round"/>
<text x="978.8" y="184.3" font-size="9.9" fill="#000" text-anchor="start" font-weight="bold" >2</text>
<circle cx="414.8" cy="206.5" r="4.5" fill="#fff" stroke="#000" stroke-width="1"/>
<path d="M414.8 206.5L410.3 206.5A4.5 4.5 0 0 1 414.8 202.0Z" stroke="none" stroke-width="0" fill="#000" />
<path d="M414.8 206.5L419.3 206.5A4.5 4.5 0 0 1 414.8 211.0Z" stroke="none" stroke-width="0" fill="#000" />
<line x1="408.3" y1="206.5" x2="420.8" y2="206.5" stroke="#000" stroke-width="0.8"/>
<line x1="414.8" y1="200.5" x2="414.8" y2="213.0" stroke="#444" stroke-width="0.6"/>
<text x="420.6" y="205.1" font-size="8.6" fill="#000" text-anchor="start" textLength="17.6" lengthAdjust="spacingAndGlyphs" stroke="#000" stroke-width="0.25">±0.00</text>
<line x1="419.3" y1="206.5" x2="438.90000000000003" y2="206.5" stroke="#000" stroke-width="0.9"/>
<circle cx="436" cy="300.5" r="4.5" fill="#fff" stroke="#000" stroke-width="1"/>
<path d="M436 300.5L431.5 300.5A4.5 4.5 0 0 1 436 296.0Z" stroke="none" stroke-width="0" fill="#000" />
<path d="M436 300.5L440.5 300.5A4.5 4.5 0 0 1 436 305.0Z" stroke="none" stroke-width="0" fill="#000" />
<line x1="429.5" y1="300.5" x2="442" y2="300.5" stroke="#000" stroke-width="0.8"/>
<line x1="436" y1="294.5" x2="436" y2="307.0" stroke="#444" stroke-width="0.6"/>
<text x="441.8" y="299.1" font-size="8.6" fill="#000" text-anchor="start" textLength="17.6" lengthAdjust="spacingAndGlyphs" stroke="#000" stroke-width="0.25">±0.00</text>
<line x1="440.5" y1="300.5" x2="460.1" y2="300.5" stroke="#000" stroke-width="0.9"/>
<line x1="194.2" y1="101" x2="194.2" y2="345" stroke="#555" stroke-width="1"/>
<line x1="194.2" y1="487" x2="194.2" y2="1156" stroke="#555" stroke-width="1.1"/>
<line x1="182.5" y1="487" x2="182.5" y2="962" stroke="#ccc" stroke-width="0.8"/>
<rect x="186.3" y="358.6" width="8.5" height="114.6" fill="#fff"/>
<line x1="187" y1="358" x2="187" y2="473" stroke="#555" stroke-width="0.9"/>
<line x1="190.2" y1="358" x2="190.2" y2="473" stroke="#555" stroke-width="0.9"/>
<line x1="188.6" y1="358" x2="188.6" y2="473" stroke="#444" stroke-width="1" stroke-dasharray="0.8 0.8"/>
<rect x="182.4" y="217.20000000000002" width="16" height="13.2" stroke="#222" stroke-width="1.1" fill="#fff" />
<rect x="186.6" y="222.0" width="7.6" height="3.6" stroke="#000" stroke-width="1.3" fill="#fff" />
<rect x="182.4" y="345.4" width="16" height="13.2" stroke="#222" stroke-width="1.1" fill="#fff" />
<rect x="186.6" y="350.2" width="7.6" height="3.6" stroke="#000" stroke-width="1.3" fill="#fff" />
<rect x="182.4" y="473.7" width="16" height="13.2" stroke="#222" stroke-width="1.1" fill="#fff" />
<rect x="186.6" y="478.5" width="7.6" height="3.6" stroke="#000" stroke-width="1.3" fill="#fff" />
<rect x="182.4" y="857.4" width="16" height="13.2" stroke="#222" stroke-width="1.1" fill="#fff" />
<rect x="186.6" y="862.2" width="7.6" height="3.6" stroke="#000" stroke-width="1.3" fill="#fff" />
<rect x="182.4" y="985.6999999999999" width="16" height="13.2" stroke="#222" stroke-width="1.1" fill="#fff" />
<rect x="186.6" y="990.5" width="7.6" height="3.6" stroke="#000" stroke-width="1.3" fill="#fff" />
<line x1="198.4" y1="352" x2="210.3" y2="352" stroke="#000" stroke-width="1.2"/>
<line x1="198.4" y1="481" x2="210.3" y2="481" stroke="#000" stroke-width="1.2"/>
<line x1="210" y1="352" x2="210" y2="481" stroke="#444" stroke-width="1.6"/>
<line x1="209.6" y1="354.7" x2="188.5" y2="417.2" stroke="#888" stroke-width="0.6"/>
<line x1="188.5" y1="425" x2="209.6" y2="476" stroke="#888" stroke-width="0.6"/>
<line x1="210.3" y1="481" x2="210.3" y2="1156" stroke="#888" stroke-width="0.9"/>
<line x1="213.5" y1="259" x2="213.5" y2="1156" stroke="#999" stroke-width="0.9"/>
<line x1="210.3" y1="259" x2="210.3" y2="352" stroke="#888" stroke-width="0.9"/>
<line x1="211.9" y1="259" x2="211.9" y2="1156" stroke="#ddd" stroke-width="0.6" stroke-dasharray="6 3"/>
<line x1="26" y1="166.5" x2="188" y2="166.5" stroke="#999" stroke-width="0.8"/>
<line x1="74" y1="169.3" x2="188" y2="169.3" stroke="#999" stroke-width="0.8"/>
<circle cx="188.5" cy="168" r="1" fill="#3a3"/>
<line x1="26" y1="481" x2="194" y2="481" stroke="#bbb" stroke-width="0.8"/>
<line x1="26" y1="804.5" x2="182" y2="804.5" stroke="#aaa" stroke-width="0.8"/>
<line x1="26" y1="864.2" x2="182" y2="864.2" stroke="#333" stroke-width="1"/>
<line x1="26" y1="858" x2="182" y2="858" stroke="#ccc" stroke-width="0.8"/>
<line x1="26" y1="870" x2="182" y2="870" stroke="#ccc" stroke-width="0.8"/>
<rect x="27" y="859" width="8" height="10" stroke="#999" stroke-width="0.7" fill="none" />
<line x1="26" y1="999.5" x2="182" y2="999.5" stroke="#ccc" stroke-width="0.8"/>
<line x1="71.5" y1="167" x2="71.5" y2="253.3" stroke="#777" stroke-width="0.9"/>
<line x1="74.2" y1="169.3" x2="74.2" y2="253.3" stroke="#777" stroke-width="0.9"/>
<line x1="71.5" y1="283.8" x2="71.5" y2="362" stroke="#777" stroke-width="0.9"/>
<line x1="74.2" y1="283.8" x2="74.2" y2="359.5" stroke="#777" stroke-width="0.9"/>
<line x1="71.5" y1="362" x2="182" y2="362" stroke="#777" stroke-width="0.9"/>
<line x1="74.2" y1="359.5" x2="182" y2="359.5" stroke="#777" stroke-width="0.9"/>
<line x1="71.5" y1="253.3" x2="81" y2="253.3" stroke="#777" stroke-width="0.8"/>
<line x1="53.6" y1="283.8" x2="81" y2="283.8" stroke="#777" stroke-width="0.8"/>
<path d="M53.6 283.8Q57 259 81 253.3" stroke="#777" stroke-width="0.8" fill="none" />
<rect x="82.3" y="188.2" width="97.8" height="160.2" stroke="#555" stroke-width="0.9" fill="none" />
<rect x="84.8" y="190.7" width="92.8" height="155.2" stroke="#777" stroke-width="0.7" fill="none" />
<rect x="136" y="184.5" width="37" height="4" stroke="#888" stroke-width="0.7" fill="none" />
<rect x="86.6" y="192.3" width="24.9" height="51.1" stroke="#666" stroke-width="0.8" fill="none" />
<rect x="86.6" y="294.2" width="24.9" height="50.6" stroke="#666" stroke-width="0.8" fill="none" />
<rect x="97" y="207" width="5" height="18" stroke="#777" stroke-width="0.8" fill="none" />
<rect x="93.5" y="210" width="3" height="12" stroke="#888" stroke-width="0.7" fill="none" />
<line x1="99.5" y1="208" x2="99.5" y2="224" stroke="#666" stroke-width="1.2"/>
<rect x="112" y="208" width="6" height="16" stroke="#888" stroke-width="0.7" fill="none" />
<line x1="117" y1="207" x2="117" y2="225" stroke="#888" stroke-width="0.8"/>
<line x1="119" y1="207" x2="119" y2="225" stroke="#888" stroke-width="0.8"/>
<rect x="97" y="309" width="5" height="18" stroke="#777" stroke-width="0.8" fill="none" />
<rect x="93.5" y="312" width="3" height="12" stroke="#888" stroke-width="0.7" fill="none" />
<line x1="99.5" y1="310" x2="99.5" y2="326" stroke="#666" stroke-width="1.2"/>
<rect x="112" y="310" width="6" height="16" stroke="#888" stroke-width="0.7" fill="none" />
<line x1="117" y1="309" x2="117" y2="327" stroke="#888" stroke-width="0.8"/>
<line x1="119" y1="309" x2="119" y2="327" stroke="#888" stroke-width="0.8"/>
<rect x="162.7" y="191.4" width="14.7" height="26" stroke="#666" stroke-width="0.8" fill="none" />
<rect x="163.5" y="192.5" width="13" height="6" stroke="#555" stroke-width="0.8" fill="none" />
<text x="170" y="212" font-size="4.5" fill="#333" text-anchor="middle" transform="rotate(-90 170 212)" >Cabinet</text>
<rect x="162.7" y="268.6" width="14.7" height="38.5" stroke="#666" stroke-width="0.8" fill="none" />
<rect x="162.7" y="307.1" width="14.7" height="37.8" stroke="#666" stroke-width="0.8" fill="none" />
<text x="173.5" y="288" font-size="7.2" fill="#222" text-anchor="middle" transform="rotate(-90 173.5 288)" textLength="25" lengthAdjust="spacingAndGlyphs" >Cabinet</text>
<text x="173.5" y="326" font-size="7.2" fill="#222" text-anchor="middle" transform="rotate(-90 173.5 326)" textLength="25" lengthAdjust="spacingAndGlyphs" >Cabinet</text>
<line x1="178.5" y1="262" x2="178.5" y2="314" stroke="#555" stroke-width="0.8"/>
<text x="177.5" y="290" font-size="7" fill="#222" text-anchor="middle" transform="rotate(-90 177.5 290)" textLength="14" lengthAdjust="spacingAndGlyphs" >163.1</text>
<line x1="124" y1="261.4" x2="226" y2="261.4" stroke="#888" stroke-width="0.9" stroke-dasharray="7.8 1.6 0.8 1.6"/>
<circle cx="116.4" cy="261.4" r="7.8" fill="none" stroke="#777" stroke-width="0.9"/>
<text x="116.7" y="265.2" font-size="10.5" fill="#6a6a6a" text-anchor="middle" textLength="10.5" lengthAdjust="spacingAndGlyphs" stroke="#6a6a6a" stroke-width="0.3">12y</text>
<line x1="124" y1="313.4" x2="226" y2="313.4" stroke="#888" stroke-width="0.9" stroke-dasharray="7.8 1.6 0.8 1.6"/>
<circle cx="116.4" cy="313.4" r="7.8" fill="none" stroke="#777" stroke-width="0.9"/>
<text x="116.7" y="317.2" font-size="10.5" fill="#6a6a6a" text-anchor="middle" textLength="10.5" lengthAdjust="spacingAndGlyphs" stroke="#6a6a6a" stroke-width="0.3">11y</text>
<line x1="124" y1="366" x2="226" y2="366" stroke="#888" stroke-width="0.9" stroke-dasharray="7.8 1.6 0.8 1.6"/>
<circle cx="116.4" cy="366" r="7.8" fill="none" stroke="#777" stroke-width="0.9"/>
<text x="116.7" y="369.8" font-size="10.5" fill="#6a6a6a" text-anchor="middle" textLength="10.5" lengthAdjust="spacingAndGlyphs" stroke="#6a6a6a" stroke-width="0.3">10y</text>
<line x1="124" y1="470.2" x2="226" y2="470.2" stroke="#888" stroke-width="0.9" stroke-dasharray="7.8 1.6 0.8 1.6"/>
<circle cx="116.4" cy="470.2" r="7.8" fill="none" stroke="#777" stroke-width="0.9"/>
<text x="116.7" y="474.0" font-size="10.5" fill="#6a6a6a" text-anchor="middle" textLength="10.5" lengthAdjust="spacingAndGlyphs" stroke="#6a6a6a" stroke-width="0.3">08y</text>
<line x1="124" y1="522.6" x2="226" y2="522.6" stroke="#888" stroke-width="0.9" stroke-dasharray="7.8 1.6 0.8 1.6"/>
<circle cx="116.4" cy="522.6" r="7.8" fill="none" stroke="#777" stroke-width="0.9"/>
<text x="116.7" y="526.4" font-size="10.5" fill="#6a6a6a" text-anchor="middle" textLength="10.5" lengthAdjust="spacingAndGlyphs" stroke="#6a6a6a" stroke-width="0.3">07y</text>
<line x1="124" y1="574.5" x2="226" y2="574.5" stroke="#888" stroke-width="0.9" stroke-dasharray="7.8 1.6 0.8 1.6"/>
<circle cx="116.4" cy="574.5" r="7.8" fill="none" stroke="#777" stroke-width="0.9"/>
<text x="116.7" y="578.3" font-size="10.5" fill="#6a6a6a" text-anchor="middle" textLength="10.5" lengthAdjust="spacingAndGlyphs" stroke="#6a6a6a" stroke-width="0.3">06y</text>
<line x1="124" y1="626.8" x2="226" y2="626.8" stroke="#888" stroke-width="0.9" stroke-dasharray="7.8 1.6 0.8 1.6"/>
<circle cx="116.4" cy="626.8" r="7.8" fill="none" stroke="#777" stroke-width="0.9"/>
<text x="116.7" y="630.5999999999999" font-size="10.5" fill="#6a6a6a" text-anchor="middle" textLength="10.5" lengthAdjust="spacingAndGlyphs" stroke="#6a6a6a" stroke-width="0.3">05y</text>
<line x1="124" y1="679.2" x2="226" y2="679.2" stroke="#888" stroke-width="0.9" stroke-dasharray="7.8 1.6 0.8 1.6"/>
<circle cx="116.4" cy="679.2" r="7.8" fill="none" stroke="#777" stroke-width="0.9"/>
<text x="116.7" y="683.0" font-size="10.5" fill="#6a6a6a" text-anchor="middle" textLength="10.5" lengthAdjust="spacingAndGlyphs" stroke="#6a6a6a" stroke-width="0.3">04y</text>
<line x1="124" y1="731.4" x2="226" y2="731.4" stroke="#888" stroke-width="0.9" stroke-dasharray="7.8 1.6 0.8 1.6"/>
<circle cx="116.4" cy="731.4" r="7.8" fill="none" stroke="#777" stroke-width="0.9"/>
<text x="116.7" y="735.1999999999999" font-size="10.5" fill="#6a6a6a" text-anchor="middle" textLength="10.5" lengthAdjust="spacingAndGlyphs" stroke="#6a6a6a" stroke-width="0.3">03y</text>
<line x1="124" y1="783.8" x2="226" y2="783.8" stroke="#888" stroke-width="0.9" stroke-dasharray="7.8 1.6 0.8 1.6"/>
<circle cx="116.4" cy="783.8" r="7.8" fill="none" stroke="#777" stroke-width="0.9"/>
<text x="116.7" y="787.5999999999999" font-size="10.5" fill="#6a6a6a" text-anchor="middle" textLength="10.5" lengthAdjust="spacingAndGlyphs" stroke="#6a6a6a" stroke-width="0.3">02y</text>
<line x1="124" y1="835.9" x2="226" y2="835.9" stroke="#888" stroke-width="0.9" stroke-dasharray="7.8 1.6 0.8 1.6"/>
<circle cx="116.4" cy="835.9" r="7.8" fill="none" stroke="#777" stroke-width="0.9"/>
<text x="116.7" y="839.6999999999999" font-size="10.5" fill="#6a6a6a" text-anchor="middle" textLength="10.5" lengthAdjust="spacingAndGlyphs" stroke="#6a6a6a" stroke-width="0.3">01y</text>
<line x1="124" y1="418" x2="226" y2="418" stroke="#888" stroke-width="0.9" stroke-dasharray="7.8 1.6 0.8 1.6"/>
<rect x="210.5" y="468.7" width="4" height="3" fill="#333"/>
<rect x="210.5" y="521.1" width="4" height="3" fill="#333"/>
<rect x="210.5" y="573.0" width="4" height="3" fill="#333"/>
<rect x="210.5" y="625.3" width="4" height="3" fill="#333"/>
<rect x="210.5" y="677.7" width="4" height="3" fill="#333"/>
<rect x="210.5" y="729.9" width="4" height="3" fill="#333"/>
<rect x="210.5" y="782.3" width="4" height="3" fill="#333"/>
<rect x="210.5" y="834.4" width="4" height="3" fill="#333"/>
<rect x="210.5" y="416.5" width="4" height="3" fill="#333"/>
<line x1="163.1" y1="362" x2="163.1" y2="836" stroke="#777" stroke-width="0.9"/>
<circle cx="163.1" cy="366" r="1.1" fill="#444"/>
<circle cx="163.1" cy="470.2" r="1.1" fill="#444"/>
<circle cx="163.1" cy="522.6" r="1.1" fill="#444"/>
<circle cx="163.1" cy="574.5" r="1.1" fill="#444"/>
<circle cx="163.1" cy="626.8" r="1.1" fill="#444"/>
<circle cx="163.1" cy="679.2" r="1.1" fill="#444"/>
<circle cx="163.1" cy="731.4" r="1.1" fill="#444"/>
<circle cx="163.1" cy="783.8" r="1.1" fill="#444"/>
<circle cx="163.1" cy="835.9" r="1.1" fill="#444"/>
<circle cx="163.1" cy="418" r="1.1" fill="#444"/>
<text x="162.6" y="392" font-size="9.6" fill="#111" text-anchor="middle" transform="rotate(-90 162.6 392)" textLength="14.5" lengthAdjust="spacingAndGlyphs" stroke="#111" stroke-width="0.35" >163.1</text>
<text x="162.6" y="444" font-size="9.6" fill="#111" text-anchor="middle" transform="rotate(-90 162.6 444)" textLength="14.5" lengthAdjust="spacingAndGlyphs" stroke="#111" stroke-width="0.35" >163.1</text>
<text x="162.6" y="496" font-size="9.6" fill="#111" text-anchor="middle" transform="rotate(-90 162.6 496)" textLength="14.5" lengthAdjust="spacingAndGlyphs" stroke="#111" stroke-width="0.35" >163.1</text>
<text x="162.6" y="548.5" font-size="9.6" fill="#111" text-anchor="middle" transform="rotate(-90 162.6 548.5)" textLength="14.5" lengthAdjust="spacingAndGlyphs" stroke="#111" stroke-width="0.35" >163.1</text>
<text x="162.6" y="601" font-size="9.6" fill="#111" text-anchor="middle" transform="rotate(-90 162.6 601)" textLength="14.5" lengthAdjust="spacingAndGlyphs" stroke="#111" stroke-width="0.35" >163.1</text>
<text x="162.6" y="653" font-size="9.6" fill="#111" text-anchor="middle" transform="rotate(-90 162.6 653)" textLength="14.5" lengthAdjust="spacingAndGlyphs" stroke="#111" stroke-width="0.35" >163.1</text>
<text x="162.6" y="705.3" font-size="9.6" fill="#111" text-anchor="middle" transform="rotate(-90 162.6 705.3)" textLength="14.5" lengthAdjust="spacingAndGlyphs" stroke="#111" stroke-width="0.35" >163.1</text>
<text x="162.6" y="757.6" font-size="9.6" fill="#111" text-anchor="middle" transform="rotate(-90 162.6 757.6)" textLength="14.5" lengthAdjust="spacingAndGlyphs" stroke="#111" stroke-width="0.35" >163.1</text>
<text x="162.6" y="810" font-size="9.6" fill="#111" text-anchor="middle" transform="rotate(-90 162.6 810)" textLength="14.5" lengthAdjust="spacingAndGlyphs" stroke="#111" stroke-width="0.35" >163.1</text>
<line x1="181" y1="340" x2="181" y2="366" stroke="#555" stroke-width="0.7"/>
<text x="199" y="341.5" font-size="8.5" fill="#111" text-anchor="start" textLength="8" lengthAdjust="spacingAndGlyphs" stroke="#111" stroke-width="0.35" >50</text>
<text x="209.5" y="341.5" font-size="8.5" fill="#111" text-anchor="start" textLength="7" lengthAdjust="spacingAndGlyphs" stroke="#111" stroke-width="0.35" >12</text>
<line x1="194" y1="344" x2="216" y2="344" stroke="#555" stroke-width="0.8"/>
<line x1="227" y1="334" x2="227" y2="367" stroke="#555" stroke-width="0.8"/>
<text x="226" y="340" font-size="8" fill="#111" text-anchor="middle" transform="rotate(-90 226 340)" textLength="14" lengthAdjust="spacingAndGlyphs" stroke="#111" stroke-width="0.35" >163.1</text>
<line x1="213" y1="366" x2="230" y2="366" stroke="#555" stroke-width="0.8"/>
<circle cx="137.5" cy="460.7" r="4.5" fill="#fff" stroke="#000" stroke-width="1"/>
<path d="M137.5 460.7L133.0 460.7A4.5 4.5 0 0 1 137.5 456.2Z" stroke="none" stroke-width="0" fill="#000" />
<path d="M137.5 460.7L142.0 460.7A4.5 4.5 0 0 1 137.5 465.2Z" stroke="none" stroke-width="0" fill="#000" />
<line x1="131.0" y1="460.7" x2="143.5" y2="460.7" stroke="#000" stroke-width="0.8"/>
<line x1="137.5" y1="454.7" x2="137.5" y2="467.2" stroke="#444" stroke-width="0.6"/>
<text x="143.3" y="459.3" font-size="8.6" fill="#000" text-anchor="start" textLength="16" lengthAdjust="spacingAndGlyphs" stroke="#000" stroke-width="0.25">-0.10</text>
<line x1="142.0" y1="460.7" x2="160.0" y2="460.7" stroke="#000" stroke-width="0.9"/>
<path d="M213 261.4L224 275.4H236" stroke="#83b90b" stroke-width="0.9" fill="none" />
<text x="237" y="279.7" font-size="9.5" fill="#83b90b" text-anchor="start" textLength="17.5" lengthAdjust="spacingAndGlyphs" stroke="#83b90b" stroke-width="0.3" >Stub</text>
<rect x="256.5" y="270.9" width="6" height="10" stroke="#83b90b" stroke-width="0.8" fill="none" />
<line x1="256" y1="269.9" x2="263" y2="281.9" stroke="#83b90b" stroke-width="0.8"/>
<text x="265" y="279.7" font-size="9.5" fill="#83b90b" text-anchor="start" textLength="25.5" lengthAdjust="spacingAndGlyphs" stroke="#83b90b" stroke-width="0.3" >120/60</text>
<path d="M213 366L224 380H236" stroke="#83b90b" stroke-width="0.9" fill="none" />
<text x="237" y="384.3" font-size="9.5" fill="#83b90b" text-anchor="start" textLength="17.5" lengthAdjust="spacingAndGlyphs" stroke="#83b90b" stroke-width="0.3" >Stub</text>
<rect x="256.5" y="375.5" width="6" height="10" stroke="#83b90b" stroke-width="0.8" fill="none" />
<line x1="256" y1="374.5" x2="263" y2="386.5" stroke="#83b90b" stroke-width="0.8"/>
<text x="265" y="384.3" font-size="9.5" fill="#83b90b" text-anchor="start" textLength="25.5" lengthAdjust="spacingAndGlyphs" stroke="#83b90b" stroke-width="0.3" >120/60</text>
<path d="M213 470.2L224 484.2H236" stroke="#83b90b" stroke-width="0.9" fill="none" />
<text x="237" y="488.5" font-size="9.5" fill="#83b90b" text-anchor="start" textLength="17.5" lengthAdjust="spacingAndGlyphs" stroke="#83b90b" stroke-width="0.3" >Stub</text>
<rect x="256.5" y="479.7" width="6" height="10" stroke="#83b90b" stroke-width="0.8" fill="none" />
<line x1="256" y1="478.7" x2="263" y2="490.7" stroke="#83b90b" stroke-width="0.8"/>
<text x="265" y="488.5" font-size="9.5" fill="#83b90b" text-anchor="start" textLength="25.5" lengthAdjust="spacingAndGlyphs" stroke="#83b90b" stroke-width="0.3" >120/60</text>
<path d="M213 574.5L224 588.5H236" stroke="#83b90b" stroke-width="0.9" fill="none" />
<text x="237" y="592.8" font-size="9.5" fill="#83b90b" text-anchor="start" textLength="17.5" lengthAdjust="spacingAndGlyphs" stroke="#83b90b" stroke-width="0.3" >Stub</text>
<rect x="256.5" y="584.0" width="6" height="10" stroke="#83b90b" stroke-width="0.8" fill="none" />
<line x1="256" y1="583.0" x2="263" y2="595.0" stroke="#83b90b" stroke-width="0.8"/>
<text x="265" y="592.8" font-size="9.5" fill="#83b90b" text-anchor="start" textLength="25.5" lengthAdjust="spacingAndGlyphs" stroke="#83b90b" stroke-width="0.3" >120/60</text>
<path d="M213 679.2L224 693.2H236" stroke="#83b90b" stroke-width="0.9" fill="none" />
<text x="237" y="697.5" font-size="9.5" fill="#83b90b" text-anchor="start" textLength="17.5" lengthAdjust="spacingAndGlyphs" stroke="#83b90b" stroke-width="0.3" >Stub</text>
<rect x="256.5" y="688.7" width="6" height="10" stroke="#83b90b" stroke-width="0.8" fill="none" />
<line x1="256" y1="687.7" x2="263" y2="699.7" stroke="#83b90b" stroke-width="0.8"/>
<text x="265" y="697.5" font-size="9.5" fill="#83b90b" text-anchor="start" textLength="25.5" lengthAdjust="spacingAndGlyphs" stroke="#83b90b" stroke-width="0.3" >120/60</text>
<path d="M213 783.8L224 797.8H236" stroke="#83b90b" stroke-width="0.9" fill="none" />
<text x="237" y="802.0999999999999" font-size="9.5" fill="#83b90b" text-anchor="start" textLength="17.5" lengthAdjust="spacingAndGlyphs" stroke="#83b90b" stroke-width="0.3" >Stub</text>
<rect x="256.5" y="793.3" width="6" height="10" stroke="#83b90b" stroke-width="0.8" fill="none" />
<line x1="256" y1="792.3" x2="263" y2="804.3" stroke="#83b90b" stroke-width="0.8"/>
<text x="265" y="802.0999999999999" font-size="9.5" fill="#83b90b" text-anchor="start" textLength="25.5" lengthAdjust="spacingAndGlyphs" stroke="#83b90b" stroke-width="0.3" >120/60</text>
<text x="213" y="777" font-size="8.5" fill="#111" text-anchor="start" textLength="7" lengthAdjust="spacingAndGlyphs" stroke="#111" stroke-width="0.35" >12</text>
<text x="17" y="199.6" font-size="22" fill="#000" text-anchor="start" transform="rotate(90 17 199.6)" textLength="137.3" lengthAdjust="spacingAndGlyphs" >SUSPENDED</text>
<text x="17" y="510.3" font-size="22" fill="#000" text-anchor="start" transform="rotate(90 17 510.3)" textLength="276.4" lengthAdjust="spacingAndGlyphs" >QUALITY CONTROL AREA</text>
<text x="22" y="942" font-size="22" fill="#000" text-anchor="start" >A</text>
<path d="M26.5 1082.6H138.7V1156" stroke="#333" stroke-width="0.9" fill="none" />
<rect x="34.4" y="1082.6" width="35.2" height="13" stroke="#333" stroke-width="0.9" fill="none" />
<path d="M34.4 1156V1150.6H69.6V1156" stroke="#333" stroke-width="0.9" fill="none" />
<line x1="51.6" y1="1096" x2="51.6" y2="1115" stroke="#333" stroke-width="0.9"/>
<line x1="51.6" y1="1130" x2="51.6" y2="1150" stroke="#333" stroke-width="0.9"/>
<circle cx="51.6" cy="1122.5" r="7.5" fill="none" stroke="#333" stroke-width="0.9"/>
<rect x="179.5" y="962" width="2.5" height="128" stroke="#888" stroke-width="0.7" fill="none" />
<rect x="179.5" y="1147" width="2.5" height="9" stroke="#888" stroke-width="0.7" fill="none" />
<rect x="213" y="259.5" width="98" height="94.8" stroke="#aaa" stroke-width="0.9" fill="none" />
<text x="261.6" y="300.3" font-size="12.5" fill="#000" text-anchor="middle" textLength="37" lengthAdjust="spacingAndGlyphs" >ZONA</text>
<text x="261.6" y="318.3" font-size="12.5" fill="#000" text-anchor="middle" textLength="80" lengthAdjust="spacingAndGlyphs" >SKLADIŠTENJA</text>
<path d="M311 263L338 292L361 263" stroke="#111" stroke-width="1.3" fill="none" />
<path d="M421 263L444 292L471 263" stroke="#111" stroke-width="1.3" fill="none" />
<line x1="213" y1="281.3" x2="697" y2="281.3" stroke="#666" stroke-width="0.9"/>
<text x="454" y="281.5" font-size="8.5" fill="#111" text-anchor="middle" textLength="15" lengthAdjust="spacingAndGlyphs" stroke="#111" stroke-width="0.35" >1499</text>
<line x1="213" y1="329.3" x2="697" y2="329.3" stroke="#666" stroke-width="0.9"/>
<circle cx="311" cy="329.3" r="1.2" fill="#555"/>
<circle cx="471" cy="329.3" r="1.2" fill="#555"/>
<text x="262" y="329" font-size="8.5" fill="#111" text-anchor="middle" textLength="12" lengthAdjust="spacingAndGlyphs" stroke="#111" stroke-width="0.35" >303</text>
<text x="390" y="329" font-size="8.5" fill="#111" text-anchor="middle" textLength="12" lengthAdjust="spacingAndGlyphs" stroke="#111" stroke-width="0.35" >500</text>
<text x="582" y="329" font-size="8.5" fill="#111" text-anchor="middle" textLength="17" lengthAdjust="spacingAndGlyphs" stroke="#111" stroke-width="0.35" >697.5</text>
<text x="705" y="329" font-size="8.5" fill="#111" text-anchor="middle" textLength="8" lengthAdjust="spacingAndGlyphs" stroke="#111" stroke-width="0.35" >67</text>
<text x="705" y="340.5" font-size="8.5" fill="#111" text-anchor="middle" textLength="8" lengthAdjust="spacingAndGlyphs" stroke="#111" stroke-width="0.35" >67</text>
<line x1="697" y1="340.8" x2="975" y2="340.8" stroke="#666" stroke-width="0.9"/>
<circle cx="716" cy="340.8" r="1.2" fill="#555"/>
<circle cx="716" cy="329.3" r="1.2" fill="#555"/>
<rect x="478.4" y="259.5" width="216.1" height="172.7" stroke="#aaa" stroke-width="0.9" fill="none" />
<line x1="532.4" y1="259.5" x2="532.4" y2="432.2" stroke="#aaa" stroke-width="0.9"/>
<line x1="586.4" y1="259.5" x2="586.4" y2="432.2" stroke="#aaa" stroke-width="0.9"/>
<line x1="640.5" y1="259.5" x2="640.5" y2="432.2" stroke="#aaa" stroke-width="0.9"/>
<text x="585.3" y="357.2" font-size="12.5" fill="#000" text-anchor="middle" textLength="115" lengthAdjust="spacingAndGlyphs" >ZONA SKLADIŠTENJA</text>
<rect x="715.7" y="259.5" width="259.3" height="172.7" stroke="#aaa" stroke-width="0.9" fill="none" />
<line x1="780.4" y1="259.5" x2="780.4" y2="432.2" stroke="#aaa" stroke-width="0.9"/>
<line x1="845.5" y1="259.5" x2="845.5" y2="432.2" stroke="#aaa" stroke-width="0.9"/>
<line x1="910.7" y1="259.5" x2="910.7" y2="432.2" stroke="#aaa" stroke-width="0.9"/>
<text x="844.4" y="357.2" font-size="12.5" fill="#000" text-anchor="middle" textLength="115" lengthAdjust="spacingAndGlyphs" >ZONA SKLADIŠTENJA</text>
<line x1="714" y1="277.7" x2="1200" y2="277.7" stroke="#666" stroke-width="0.9"/>
<text x="958" y="278" font-size="8.5" fill="#111" text-anchor="middle" textLength="15" lengthAdjust="spacingAndGlyphs" stroke="#111" stroke-width="0.35" >1512</text>
<text x="845" y="340.5" font-size="8.5" fill="#111" text-anchor="middle" textLength="11" lengthAdjust="spacingAndGlyphs" stroke="#111" stroke-width="0.35" >807</text>
<line x1="573.5" y1="259" x2="573.5" y2="839" stroke="#777" stroke-width="1.3"/>
<text x="573" y="549" font-size="8.5" fill="#111" text-anchor="middle" transform="rotate(-90 573 549)" textLength="19" lengthAdjust="spacingAndGlyphs" stroke="#111" stroke-width="0.35" >1807.5</text>
<line x1="677.3" y1="259" x2="677.3" y2="839" stroke="#444" stroke-width="1"/>
<text x="676.8" y="270.5" font-size="9" fill="#111" text-anchor="middle" transform="rotate(-90 676.8 270.5)" textLength="17.5" lengthAdjust="spacingAndGlyphs" stroke="#111" stroke-width="0.35" >45 43</text>
<text x="676.8" y="339.5" font-size="9" fill="#111" text-anchor="middle" transform="rotate(-90 676.8 339.5)" textLength="10.5" lengthAdjust="spacingAndGlyphs" stroke="#111" stroke-width="0.35" >385</text>
<text x="676.8" y="403.4" font-size="9" fill="#111" text-anchor="middle" transform="rotate(-90 676.8 403.4)" textLength="7.0" lengthAdjust="spacingAndGlyphs" stroke="#111" stroke-width="0.35" >15</text>
<text x="676.8" y="475.5" font-size="9" fill="#111" text-anchor="middle" transform="rotate(-90 676.8 475.5)" textLength="10.5" lengthAdjust="spacingAndGlyphs" stroke="#111" stroke-width="0.35" >435</text>
<text x="676.8" y="547.5" font-size="9" fill="#111" text-anchor="middle" transform="rotate(-90 676.8 547.5)" textLength="7.0" lengthAdjust="spacingAndGlyphs" stroke="#111" stroke-width="0.35" >15</text>
<text x="676.8" y="619" font-size="9" fill="#111" text-anchor="middle" transform="rotate(-90 676.8 619)" textLength="10.5" lengthAdjust="spacingAndGlyphs" stroke="#111" stroke-width="0.35" >435</text>
<text x="676.8" y="691.8" font-size="9" fill="#111" text-anchor="middle" transform="rotate(-90 676.8 691.8)" textLength="7.0" lengthAdjust="spacingAndGlyphs" stroke="#111" stroke-width="0.35" >15</text>
<text x="676.8" y="763" font-size="9" fill="#111" text-anchor="middle" transform="rotate(-90 676.8 763)" textLength="10.5" lengthAdjust="spacingAndGlyphs" stroke="#111" stroke-width="0.35" >435</text>
<text x="676.8" y="835.5" font-size="9" fill="#111" text-anchor="middle" transform="rotate(-90 676.8 835.5)" textLength="7.0" lengthAdjust="spacingAndGlyphs" stroke="#111" stroke-width="0.35" >15</text>
<line x1="696.7" y1="197" x2="696.7" y2="905" stroke="#999" stroke-width="0.9" stroke-dasharray="7.8 1.6 0.8 1.6"/>
<line x1="714" y1="197" x2="714" y2="905" stroke="#999" stroke-width="0.9" stroke-dasharray="7.8 1.6 0.8 1.6"/>
<line x1="650" y1="275.5" x2="783" y2="275.5" stroke="#999" stroke-width="0.9" stroke-dasharray="7.8 1.6 0.8 1.6"/>
<rect x="686" y="262.5" width="38" height="26" stroke="#aaa" stroke-width="0.9" fill="none" />
<rect x="694.7" y="273.2" width="4.6" height="4.6" stroke="#111" stroke-width="1" fill="#fff" />
<rect x="711.7" y="273.2" width="4.6" height="4.6" stroke="#111" stroke-width="1" fill="#fff" />
<line x1="699" y1="275.5" x2="712" y2="275.5" stroke="#888" stroke-width="0.8"/>
<path d="M705 277.5L693.5 293.0H614" stroke="#83b90b" stroke-width="0.9" fill="none" />
<text x="614" y="291.0" font-size="9.5" fill="#83b90b" text-anchor="start" textLength="28" lengthAdjust="spacingAndGlyphs" stroke="#83b90b" stroke-width="0.3" >Stub 2x</text>
<rect x="644.5" y="284.0" width="6" height="7" stroke="#83b90b" stroke-width="0.8" fill="none" />
<line x1="643.5" y1="292.0" x2="652" y2="282.5" stroke="#83b90b" stroke-width="0.8"/>
<text x="651.5" y="291.0" font-size="9.5" fill="#83b90b" text-anchor="start" textLength="27.5" lengthAdjust="spacingAndGlyphs" stroke="#83b90b" stroke-width="0.3" >150/150</text>
<line x1="650" y1="403.4" x2="783" y2="403.4" stroke="#999" stroke-width="0.9" stroke-dasharray="7.8 1.6 0.8 1.6"/>
<rect x="686" y="390.4" width="38" height="26" stroke="#aaa" stroke-width="0.9" fill="none" />
<rect x="694.7" y="401.09999999999997" width="4.6" height="4.6" stroke="#111" stroke-width="1" fill="#fff" />
<rect x="711.7" y="401.09999999999997" width="4.6" height="4.6" stroke="#111" stroke-width="1" fill="#fff" />
<line x1="699" y1="403.4" x2="712" y2="403.4" stroke="#888" stroke-width="0.8"/>
<path d="M705 405.4L693.5 420.9H614" stroke="#83b90b" stroke-width="0.9" fill="none" />
<text x="614" y="418.9" font-size="9.5" fill="#83b90b" text-anchor="start" textLength="28" lengthAdjust="spacingAndGlyphs" stroke="#83b90b" stroke-width="0.3" >Stub 2x</text>
<rect x="644.5" y="411.9" width="6" height="7" stroke="#83b90b" stroke-width="0.8" fill="none" />
<line x1="643.5" y1="419.9" x2="652" y2="410.4" stroke="#83b90b" stroke-width="0.8"/>
<text x="651.5" y="418.9" font-size="9.5" fill="#83b90b" text-anchor="start" textLength="27.5" lengthAdjust="spacingAndGlyphs" stroke="#83b90b" stroke-width="0.3" >150/150</text>
<line x1="650" y1="547.7" x2="783" y2="547.7" stroke="#999" stroke-width="0.9" stroke-dasharray="7.8 1.6 0.8 1.6"/>
<rect x="686" y="534.7" width="38" height="26" stroke="#aaa" stroke-width="0.9" fill="none" />
<rect x="694.7" y="545.4000000000001" width="4.6" height="4.6" stroke="#111" stroke-width="1" fill="#fff" />
<rect x="711.7" y="545.4000000000001" width="4.6" height="4.6" stroke="#111" stroke-width="1" fill="#fff" />
<line x1="699" y1="547.7" x2="712" y2="547.7" stroke="#888" stroke-width="0.8"/>
<path d="M705 549.7L693.5 565.2H614" stroke="#83b90b" stroke-width="0.9" fill="none" />
<text x="614" y="563.2" font-size="9.5" fill="#83b90b" text-anchor="start" textLength="28" lengthAdjust="spacingAndGlyphs" stroke="#83b90b" stroke-width="0.3" >Stub 2x</text>
<rect x="644.5" y="556.2" width="6" height="7" stroke="#83b90b" stroke-width="0.8" fill="none" />
<line x1="643.5" y1="564.2" x2="652" y2="554.7" stroke="#83b90b" stroke-width="0.8"/>
<text x="651.5" y="563.2" font-size="9.5" fill="#83b90b" text-anchor="start" textLength="27.5" lengthAdjust="spacingAndGlyphs" stroke="#83b90b" stroke-width="0.3" >150/150</text>
<line x1="650" y1="691.8" x2="783" y2="691.8" stroke="#999" stroke-width="0.9" stroke-dasharray="7.8 1.6 0.8 1.6"/>
<rect x="686" y="678.8" width="38" height="26" stroke="#aaa" stroke-width="0.9" fill="none" />
<rect x="694.7" y="689.5" width="4.6" height="4.6" stroke="#111" stroke-width="1" fill="#fff" />
<rect x="711.7" y="689.5" width="4.6" height="4.6" stroke="#111" stroke-width="1" fill="#fff" />
<line x1="699" y1="691.8" x2="712" y2="691.8" stroke="#888" stroke-width="0.8"/>
<path d="M705 693.8L693.5 709.3H614" stroke="#83b90b" stroke-width="0.9" fill="none" />
<text x="614" y="707.3" font-size="9.5" fill="#83b90b" text-anchor="start" textLength="28" lengthAdjust="spacingAndGlyphs" stroke="#83b90b" stroke-width="0.3" >Stub 2x</text>
<rect x="644.5" y="700.3" width="6" height="7" stroke="#83b90b" stroke-width="0.8" fill="none" />
<line x1="643.5" y1="708.3" x2="652" y2="698.8" stroke="#83b90b" stroke-width="0.8"/>
<text x="651.5" y="707.3" font-size="9.5" fill="#83b90b" text-anchor="start" textLength="27.5" lengthAdjust="spacingAndGlyphs" stroke="#83b90b" stroke-width="0.3" >150/150</text>
<line x1="650" y1="835.5" x2="783" y2="835.5" stroke="#999" stroke-width="0.9" stroke-dasharray="7.8 1.6 0.8 1.6"/>
<rect x="686" y="822.5" width="38" height="26" stroke="#aaa" stroke-width="0.9" fill="none" />
<rect x="694.7" y="833.2" width="4.6" height="4.6" stroke="#111" stroke-width="1" fill="#fff" />
<rect x="711.7" y="833.2" width="4.6" height="4.6" stroke="#111" stroke-width="1" fill="#fff" />
<line x1="699" y1="835.5" x2="712" y2="835.5" stroke="#888" stroke-width="0.8"/>
<path d="M705 837.5L693.5 853.0H614" stroke="#83b90b" stroke-width="0.9" fill="none" />
<text x="614" y="851.0" font-size="9.5" fill="#83b90b" text-anchor="start" textLength="28" lengthAdjust="spacingAndGlyphs" stroke="#83b90b" stroke-width="0.3" >Stub 2x</text>
<rect x="644.5" y="844.0" width="6" height="7" stroke="#83b90b" stroke-width="0.8" fill="none" />
<line x1="643.5" y1="852.0" x2="652" y2="842.5" stroke="#83b90b" stroke-width="0.8"/>
<text x="651.5" y="851.0" font-size="9.5" fill="#83b90b" text-anchor="start" textLength="27.5" lengthAdjust="spacingAndGlyphs" stroke="#83b90b" stroke-width="0.3" >150/150</text>
<circle cx="791.2" cy="275.5" r="7.8" fill="none" stroke="#777" stroke-width="0.9"/>
<text x="791.5" y="279.3" font-size="10.5" fill="#6a6a6a" text-anchor="middle" textLength="11.5" lengthAdjust="spacingAndGlyphs" stroke="#6a6a6a" stroke-width="0.3">11y'</text>
<circle cx="791.2" cy="403.4" r="7.8" fill="none" stroke="#777" stroke-width="0.9"/>
<text x="791.5" y="407.2" font-size="10.5" fill="#6a6a6a" text-anchor="middle" textLength="11.5" lengthAdjust="spacingAndGlyphs" stroke="#6a6a6a" stroke-width="0.3">09y'</text>
<line x1="194" y1="480.5" x2="373.5" y2="480.5" stroke="#999" stroke-width="0.9"/>
<line x1="194" y1="525.4" x2="373.5" y2="525.4" stroke="#999" stroke-width="0.9"/>
<line x1="194" y1="570.3" x2="373.5" y2="570.3" stroke="#999" stroke-width="0.9"/>
<line x1="194" y1="615.5" x2="373.5" y2="615.5" stroke="#999" stroke-width="0.9"/>
<line x1="194" y1="659.4" x2="373.5" y2="659.4" stroke="#999" stroke-width="0.9"/>
<line x1="194" y1="704.5" x2="373.5" y2="704.5" stroke="#999" stroke-width="0.9"/>
<line x1="194" y1="749.2" x2="373.5" y2="749.2" stroke="#999" stroke-width="0.9"/>
<line x1="194" y1="794.4" x2="373.5" y2="794.4" stroke="#999" stroke-width="0.9"/>
<line x1="373.5" y1="480.5" x2="373.5" y2="839" stroke="#999" stroke-width="0.9"/>
<text x="295" y="679" font-size="12.5" fill="#000" text-anchor="middle" textLength="115" lengthAdjust="spacingAndGlyphs" >ZONA SKLADIŠTENJA</text>
<text x="427.3" y="609.5" font-size="9.450000000000001" fill="#83b90b" text-anchor="middle" textLength="85" lengthAdjust="spacingAndGlyphs" stroke="#83b90b" stroke-width="0.3" >H <tspan font-size="7.2">k.konstrukcije</tspan> = 440 cm</text>
<line x1="477.3" y1="544.8" x2="689.2" y2="544.8" stroke="#999" stroke-width="0.9"/>
<line x1="477.3" y1="594.5" x2="689.2" y2="594.5" stroke="#999" stroke-width="0.9"/>
<line x1="477.3" y1="643.6" x2="689.2" y2="643.6" stroke="#999" stroke-width="0.9"/>
<line x1="477.3" y1="692.4" x2="689.2" y2="692.4" stroke="#999" stroke-width="0.9"/>
<line x1="477.3" y1="741" x2="689.2" y2="741" stroke="#999" stroke-width="0.9"/>
<line x1="477.3" y1="789.2" x2="689.2" y2="789.2" stroke="#999" stroke-width="0.9"/>
<line x1="477.3" y1="544.8" x2="477.3" y2="839" stroke="#999" stroke-width="0.9"/>
<line x1="689.2" y1="544.8" x2="689.2" y2="789.2" stroke="#999" stroke-width="0.9"/>
<text x="587.5" y="679" font-size="12.5" fill="#000" text-anchor="middle" textLength="115" lengthAdjust="spacingAndGlyphs" >ZONA SKLADIŠTENJA</text>
<line x1="213" y1="783.8" x2="697" y2="783.8" stroke="#555" stroke-width="1"/>
<text x="467" y="784" font-size="8.5" fill="#111" text-anchor="middle" textLength="15" lengthAdjust="spacingAndGlyphs" stroke="#111" stroke-width="0.35" >1578</text>
<line x1="194" y1="839" x2="1200" y2="839" stroke="#444" stroke-width="1.1"/>
<circle cx="219.0" cy="839" r="1.3" fill="#111"/>
<circle cx="243.1" cy="839" r="1.3" fill="#111"/>
<circle cx="267.2" cy="839" r="1.3" fill="#111"/>
<circle cx="291.3" cy="839" r="1.3" fill="#111"/>
<circle cx="315.4" cy="839" r="1.3" fill="#111"/>
<circle cx="339.5" cy="839" r="1.3" fill="#111"/>
<circle cx="363.6" cy="839" r="1.3" fill="#111"/>
<circle cx="387.7" cy="839" r="1.3" fill="#111"/>
<circle cx="411.8" cy="839" r="1.3" fill="#111"/>
<circle cx="501.1" cy="839" r="1.3" fill="#111"/>
<circle cx="525.2" cy="839" r="1.3" fill="#111"/>
<circle cx="549.3" cy="839" r="1.3" fill="#111"/>
<circle cx="573.4" cy="839" r="1.3" fill="#111"/>
<circle cx="597.5" cy="839" r="1.3" fill="#111"/>
<circle cx="621.6" cy="839" r="1.3" fill="#111"/>
<circle cx="645.7" cy="839" r="1.3" fill="#111"/>
<circle cx="669.8" cy="839" r="1.3" fill="#111"/>
<circle cx="693.9" cy="839" r="1.3" fill="#111"/>
<circle cx="718.0" cy="839" r="1.3" fill="#111"/>
<circle cx="742.1" cy="839" r="1.3" fill="#111"/>
<circle cx="766.2" cy="839" r="1.3" fill="#111"/>
<circle cx="790.3" cy="839" r="1.3" fill="#111"/>
<circle cx="814.4" cy="839" r="1.3" fill="#111"/>
<circle cx="838.5" cy="839" r="1.3" fill="#111"/>
<circle cx="862.6" cy="839" r="1.3" fill="#111"/>
<circle cx="886.7" cy="839" r="1.3" fill="#111"/>
<circle cx="910.8" cy="839" r="1.3" fill="#111"/>
<circle cx="934.9" cy="839" r="1.3" fill="#111"/>
<circle cx="959.0" cy="839" r="1.3" fill="#111"/>
<circle cx="983.1" cy="839" r="1.3" fill="#111"/>
<circle cx="1007.2" cy="839" r="1.3" fill="#111"/>
<circle cx="1031.3" cy="839" r="1.3" fill="#111"/>
<circle cx="1055.4" cy="839" r="1.3" fill="#111"/>
<circle cx="1079.5" cy="839" r="1.3" fill="#111"/>
<circle cx="1103.6" cy="839" r="1.3" fill="#111"/>
<circle cx="1127.7" cy="839" r="1.3" fill="#111"/>
<circle cx="1151.8" cy="839" r="1.3" fill="#111"/>
<circle cx="1175.9" cy="839" r="1.3" fill="#111"/>
<rect x="413" y="838" width="62" height="2.5" fill="#fff"/>
<line x1="413" y1="839" x2="475.6" y2="839" stroke="#555" stroke-width="0.8" stroke-dasharray="1 1"/>
<path d="M412.9 839V806.4A32.6 32.6 0 0 1 444.25 839" stroke="#777" stroke-width="0.7" fill="none" />
<path d="M475.6 839V806.4A32.6 32.6 0 0 0 444.25 839" stroke="#777" stroke-width="0.7" fill="none" />
<circle cx="412.9" cy="839" r="1.5" fill="#111"/>
<circle cx="412.9" cy="806.5" r="1" fill="#111"/>
<circle cx="475.6" cy="839" r="1.5" fill="#111"/>
<circle cx="475.6" cy="806.5" r="1" fill="#111"/>
<circle cx="241" cy="445" r="4.5" fill="#fff" stroke="#000" stroke-width="1"/>
<path d="M241 445L236.5 445A4.5 4.5 0 0 1 241 440.5Z" stroke="none" stroke-width="0" fill="#000" />
<path d="M241 445L245.5 445A4.5 4.5 0 0 1 241 449.5Z" stroke="none" stroke-width="0" fill="#000" />
<line x1="234.5" y1="445" x2="247" y2="445" stroke="#000" stroke-width="0.8"/>
<line x1="241" y1="439" x2="241" y2="451.5" stroke="#444" stroke-width="0.6"/>
<text x="246.8" y="443.6" font-size="8.6" fill="#000" text-anchor="start" textLength="17.6" lengthAdjust="spacingAndGlyphs" stroke="#000" stroke-width="0.25">±0.00</text>
<line x1="245.5" y1="445" x2="265.1" y2="445" stroke="#000" stroke-width="0.9"/>
<circle cx="414" cy="720" r="4.5" fill="#fff" stroke="#000" stroke-width="1"/>
<path d="M414 720L409.5 720A4.5 4.5 0 0 1 414 715.5Z" stroke="none" stroke-width="0" fill="#000" />
<path d="M414 720L418.5 720A4.5 4.5 0 0 1 414 724.5Z" stroke="none" stroke-width="0" fill="#000" />
<line x1="407.5" y1="720" x2="420" y2="720" stroke="#000" stroke-width="0.8"/>
<line x1="414" y1="714" x2="414" y2="726.5" stroke="#444" stroke-width="0.6"/>
<text x="419.8" y="718.6" font-size="8.6" fill="#000" text-anchor="start" textLength="17.6" lengthAdjust="spacingAndGlyphs" stroke="#000" stroke-width="0.25">±0.00</text>
<line x1="418.5" y1="720" x2="438.1" y2="720" stroke="#000" stroke-width="0.9"/>
<circle cx="383" cy="861" r="4.5" fill="#fff" stroke="#000" stroke-width="1"/>
<path d="M383 861L378.5 861A4.5 4.5 0 0 1 383 856.5Z" stroke="none" stroke-width="0" fill="#000" />
<path d="M383 861L387.5 861A4.5 4.5 0 0 1 383 865.5Z" stroke="none" stroke-width="0" fill="#000" />
<line x1="376.5" y1="861" x2="389" y2="861" stroke="#000" stroke-width="0.8"/>
<line x1="383" y1="855" x2="383" y2="867.5" stroke="#444" stroke-width="0.6"/>
<text x="388.8" y="859.6" font-size="8.6" fill="#000" text-anchor="start" textLength="17.6" lengthAdjust="spacingAndGlyphs" stroke="#000" stroke-width="0.25">±0.00</text>
<line x1="387.5" y1="861" x2="407.1" y2="861" stroke="#000" stroke-width="0.9"/>
<line x1="213" y1="875.6" x2="1201" y2="875.6" stroke="#555" stroke-width="0.9"/>
<line x1="213" y1="888.1" x2="1201" y2="888.1" stroke="#555" stroke-width="0.9"/>
<line x1="194" y1="901.3" x2="1201" y2="901.3" stroke="#555" stroke-width="0.9"/>
<circle cx="213" cy="875.6" r="1" fill="#555"/>
<circle cx="213" cy="888.1" r="1" fill="#555"/>
<circle cx="697" cy="875.6" r="1" fill="#555"/>
<circle cx="697" cy="888.1" r="1" fill="#555"/>
<circle cx="714" cy="875.6" r="1" fill="#555"/>
<circle cx="714" cy="888.1" r="1" fill="#555"/>
<circle cx="1200" cy="875.6" r="1" fill="#555"/>
<circle cx="1200" cy="888.1" r="1" fill="#555"/>
<text x="471" y="875.5" font-size="8.5" fill="#111" text-anchor="middle" textLength="15" lengthAdjust="spacingAndGlyphs" stroke="#111" stroke-width="0.35" >1512</text>
<text x="955" y="875.5" font-size="8.5" fill="#111" text-anchor="middle" textLength="15" lengthAdjust="spacingAndGlyphs" stroke="#111" stroke-width="0.35" >1512</text>
<text x="705" y="875.5" font-size="8.5" fill="#111" text-anchor="middle" textLength="8" lengthAdjust="spacingAndGlyphs" stroke="#111" stroke-width="0.35" >52</text>
<text x="705" y="888.3" font-size="8.5" fill="#111" text-anchor="middle" textLength="15" lengthAdjust="spacingAndGlyphs" stroke="#111" stroke-width="0.35" >3076</text>
<text x="697.5" y="901.3" font-size="8.5" fill="#111" text-anchor="middle" textLength="15" lengthAdjust="spacingAndGlyphs" stroke="#111" stroke-width="0.35" >3140</text>
<circle cx="212" cy="913.5" r="7.8" fill="none" stroke="#777" stroke-width="0.9"/>
<text x="212.3" y="917.3" font-size="10.5" fill="#6a6a6a" text-anchor="middle" textLength="10.5" lengthAdjust="spacingAndGlyphs" stroke="#6a6a6a" stroke-width="0.3">01x</text>
<circle cx="696.7" cy="913.5" r="7.8" fill="none" stroke="#777" stroke-width="0.9"/>
<text x="697.0" y="917.3" font-size="10.5" fill="#6a6a6a" text-anchor="middle" textLength="10.5" lengthAdjust="spacingAndGlyphs" stroke="#6a6a6a" stroke-width="0.3">02x</text>
<circle cx="713.8" cy="913.5" r="7.8" fill="none" stroke="#777" stroke-width="0.9"/>
<text x="714.0999999999999" y="917.3" font-size="10.5" fill="#6a6a6a" text-anchor="middle" textLength="11.5" lengthAdjust="spacingAndGlyphs" stroke="#6a6a6a" stroke-width="0.3">02x'</text>
<circle cx="1198" cy="913.5" r="7.8" fill="none" stroke="#777" stroke-width="0.9"/>
<text x="1198.3" y="917.3" font-size="10.5" fill="#6a6a6a" text-anchor="middle" textLength="10.5" lengthAdjust="spacingAndGlyphs" stroke="#6a6a6a" stroke-width="0.3">03x</text>
<path d="M685 934L705 924L725 934Z" stroke="#83b90b" stroke-width="0.9" fill="none" />
<text x="705.5" y="946" font-size="10" fill="#83b90b" text-anchor="middle" textLength="40" lengthAdjust="spacingAndGlyphs" stroke="#83b90b" stroke-width="0.3" >IZGLED 1</text>
<line x1="484.8" y1="225" x2="484.8" y2="901" stroke="#83b90b" stroke-width="1.1" stroke-dasharray="3.4 3.3"/>
<line x1="745.3" y1="225" x2="745.3" y2="901" stroke="#83b90b" stroke-width="1.1" stroke-dasharray="3.4 3.3"/>
<line x1="150" y1="530.3" x2="1268" y2="530.3" stroke="#83b90b" stroke-width="1.1" stroke-dasharray="3.4 3.3"/>
<path d="M484.3 204.3L473.8 214.5H484.8V225" stroke="#83b90b" stroke-width="1.1" fill="none" />
<text x="484.3" y="223" font-size="10.5" fill="#83b90b" text-anchor="start" transform="rotate(-90 484.3 223)" stroke="#83b90b" stroke-width="0.3" >3</text>
<path d="M484.8 901V912.4H474.0L484.8 922.5" stroke="#83b90b" stroke-width="1.1" fill="none" />
<text x="484.3" y="911" font-size="10.5" fill="#83b90b" text-anchor="start" transform="rotate(-90 484.3 911)" stroke="#83b90b" stroke-width="0.3" >3</text>
<path d="M744.8 204.3L734.3 214.5H745.3V225" stroke="#83b90b" stroke-width="1.1" fill="none" />
<text x="744.8" y="223" font-size="10.5" fill="#83b90b" text-anchor="start" transform="rotate(-90 744.8 223)" stroke="#83b90b" stroke-width="0.3" >2</text>
<path d="M745.3 901V912.4H734.5L745.3 922.5" stroke="#83b90b" stroke-width="1.1" fill="none" />
<text x="744.8" y="911" font-size="10.5" fill="#83b90b" text-anchor="start" transform="rotate(-90 744.8 911)" stroke="#83b90b" stroke-width="0.3" >2</text>
<path d="M132.5 529.8L142.6 519.5V530.3H150" stroke="#83b90b" stroke-width="1.1" fill="none" />
<text x="145.5" y="527" font-size="10.5" fill="#83b90b" text-anchor="start" textLength="4.5" lengthAdjust="spacingAndGlyphs" stroke="#83b90b" stroke-width="0.3" >1</text>
<path d="M1268 530.3H1275.8V519.3L1285.8 529.6" stroke="#83b90b" stroke-width="1.1" fill="none" />
<text x="1269.5" y="527" font-size="10.5" fill="#83b90b" text-anchor="start" textLength="4.5" lengthAdjust="spacingAndGlyphs" stroke="#83b90b" stroke-width="0.3" >1</text>
<line x1="1322.6" y1="259" x2="1322.6" y2="1156" stroke="#000" stroke-width="1.1"/>
<line x1="1329" y1="259" x2="1329" y2="1156" stroke="#333" stroke-width="2"/>
<line x1="1239.8" y1="887.5" x2="1322.8" y2="887.5" stroke="#111" stroke-width="1.6"/>
<line x1="1239.8" y1="887.5" x2="1239.8" y2="921" stroke="#222" stroke-width="1.2"/>
<line x1="1243" y1="887.5" x2="1243" y2="921" stroke="#444" stroke-width="0.8"/>
<line x1="1239.8" y1="956" x2="1239.8" y2="1005" stroke="#222" stroke-width="1.2"/>
<line x1="1243" y1="956" x2="1243" y2="1003" stroke="#444" stroke-width="0.8"/>
<line x1="1239.8" y1="1005" x2="1322.8" y2="1005" stroke="#111" stroke-width="1.5"/>
<path d="M1238.5 921A31.5 35 0 0 0 1209.3 956.3H1239.8" stroke="#333" stroke-width="0.8" fill="none" />
<line x1="1240.6" y1="921" x2="1240.6" y2="956.5" stroke="#222" stroke-width="1.4"/>
<rect x="1239.2" y="923.5" width="2.8" height="3" stroke="#222" stroke-width="0.8" fill="#555" />
<rect x="1214.7" y="928.8" width="19.6" height="15.1" stroke="#333" stroke-width="0.9" fill="#fff" />
<text x="1224.6" y="941.3" font-size="11" fill="#000" text-anchor="middle" textLength="10.5" lengthAdjust="spacingAndGlyphs" >P6</text>
<line x1="1234" y1="936" x2="1254" y2="936" stroke="#111" stroke-width="0.8"/>
<text x="1248" y="935" font-size="4.5" fill="#000" text-anchor="start" >80</text>
<text x="1247" y="941" font-size="4.5" fill="#000" text-anchor="start" >210</text>
<rect x="1329" y="1046.5" width="15.6" height="51.5" stroke="#111" stroke-width="1.3" fill="none" />
<path d="M1338.5 1063L1334.5 1073H1338.5L1334.5 1081" stroke="#111" stroke-width="1.1" fill="none" />
<path d="M1333.5 1078L1334.5 1082L1337 1079" stroke="#111" stroke-width="1" fill="#111" />
<line x1="1330" y1="1136" x2="1360" y2="1136" stroke="#888" stroke-width="0.8"/>
<rect x="1329" y="1131" width="3" height="5" stroke="#666" stroke-width="0.6" fill="none" />
<rect x="1357" y="1131" width="3" height="5" stroke="#666" stroke-width="0.6" fill="none" />
<rect x="1330" y="737" width="32" height="5" stroke="#888" stroke-width="0.7" fill="none" />
<rect x="1345" y="560.7" width="17" height="88.3" stroke="#888" stroke-width="0.9" fill="none" />
<line x1="1345" y1="604.8" x2="1362" y2="604.8" stroke="#999" stroke-width="1.8"/>
<rect x="1357" y="940" width="5" height="15" stroke="#888" stroke-width="0.7" fill="none" />
<line x1="974.3" y1="259" x2="974.3" y2="453.5" stroke="#777" stroke-width="0.9"/>
<line x1="976.4" y1="259" x2="976.4" y2="453.5" stroke="#777" stroke-width="0.9"/>
<line x1="944" y1="453.5" x2="976.4" y2="453.5" stroke="#777" stroke-width="0.8"/>
<path d="M945.5 453.5A29.5 31 0 0 0 975 484.5" stroke="#777" stroke-width="0.7" fill="none" />
<path d="M975 484.5A30 30 0 0 0 945.5 514.5" stroke="#777" stroke-width="0.7" fill="none" />
<line x1="974.5" y1="514.6" x2="974.5" y2="580" stroke="#777" stroke-width="0.9"/>
<line x1="976.4" y1="514.6" x2="976.4" y2="580" stroke="#777" stroke-width="0.9"/>
<line x1="944" y1="514.6" x2="976.4" y2="514.6" stroke="#777" stroke-width="0.8"/>
<line x1="719.5" y1="579.4" x2="797.3" y2="579.4" stroke="#777" stroke-width="0.9"/>
<line x1="719.5" y1="581" x2="797.3" y2="581" stroke="#999" stroke-width="0.7"/>
<line x1="797.3" y1="541.6" x2="797.3" y2="580" stroke="#777" stroke-width="0.9"/>
<line x1="799" y1="541.6" x2="799" y2="580" stroke="#999" stroke-width="0.7"/>
<line x1="876" y1="579.4" x2="896" y2="579.4" stroke="#777" stroke-width="0.9"/>
<line x1="876" y1="541.6" x2="876" y2="580" stroke="#777" stroke-width="0.9"/>
<line x1="877.5" y1="541.6" x2="877.5" y2="580" stroke="#999" stroke-width="0.7"/>
<line x1="895.5" y1="541.6" x2="895.5" y2="580" stroke="#777" stroke-width="0.9"/>
<line x1="894" y1="541.6" x2="894" y2="580" stroke="#999" stroke-width="0.7"/>
<line x1="974.5" y1="580" x2="1200.5" y2="580" stroke="#777" stroke-width="0.9"/>
<line x1="974.5" y1="582" x2="1200.5" y2="582" stroke="#999" stroke-width="0.7"/>
<path d="M799 541.6A38.5 38.5 0 0 1 837.5 580" stroke="#777" stroke-width="0.7" fill="none" />
<path d="M876 541.6A38.5 38.5 0 0 0 837.5 580" stroke="#777" stroke-width="0.7" fill="none" />
<line x1="799" y1="541.6" x2="802" y2="541.6" stroke="#777" stroke-width="0.7"/>
<line x1="876" y1="541.6" x2="873" y2="541.6" stroke="#777" stroke-width="0.7"/>
<path d="M895.5 541.6A39.5 38.5 0 0 1 935.0 580" stroke="#777" stroke-width="0.7" fill="none" />
<path d="M974.5 541.6A39.5 38.5 0 0 0 935.0 580" stroke="#777" stroke-width="0.7" fill="none" />
<line x1="895.5" y1="541.6" x2="898.5" y2="541.6" stroke="#777" stroke-width="0.7"/>
<line x1="974.5" y1="541.6" x2="971.5" y2="541.6" stroke="#777" stroke-width="0.7"/>
<line x1="719.5" y1="579.4" x2="719.5" y2="839" stroke="#888" stroke-width="0.9"/>
<line x1="721.6" y1="581" x2="721.6" y2="839" stroke="#999" stroke-width="0.7"/>
<line x1="877.2" y1="580" x2="877.2" y2="839" stroke="#888" stroke-width="0.9"/>
<line x1="879" y1="580" x2="879" y2="839" stroke="#aaa" stroke-width="0.7"/>
<rect x="724.9" y="601" width="50.3" height="76.8" stroke="#888" stroke-width="0.9" fill="none" />
<rect x="724.9" y="677.8" width="50.3" height="152" stroke="#888" stroke-width="0.9" fill="none" />
<line x1="724.9" y1="676.5" x2="775.2" y2="676.5" stroke="#aaa" stroke-width="2"/>
<line x1="724.9" y1="753" x2="775.2" y2="753" stroke="#999" stroke-width="0.9"/>
<rect x="772" y="605" width="1.6" height="10" fill="#111"/>
<rect x="772" y="680" width="1.6" height="10" fill="#111"/>
<rect x="772" y="758" width="1.6" height="10" fill="#111"/>
<text x="759" y="590.5" font-size="9.450000000000001" fill="#83b90b" text-anchor="middle" textLength="70" lengthAdjust="spacingAndGlyphs" stroke="#83b90b" stroke-width="0.3" >H <tspan font-size="7.2">pregrade</tspan> = 220 cm</text>
<text x="805" y="705" font-size="9.450000000000001" fill="#83b90b" text-anchor="middle" textLength="85" lengthAdjust="spacingAndGlyphs" stroke="#83b90b" stroke-width="0.3" >H <tspan font-size="7.2">k.konstrukcije</tspan> = 440 cm</text>
<text x="714" y="759" font-size="9.450000000000001" fill="#83b90b" text-anchor="middle" transform="rotate(-90 714 759)" textLength="70" lengthAdjust="spacingAndGlyphs" stroke="#83b90b" stroke-width="0.3" >H <tspan font-size="7.2">pregrade</tspan> = 220 cm</text>
<text x="874.5" y="759" font-size="9.450000000000001" fill="#83b90b" text-anchor="middle" transform="rotate(-90 874.5 759)" textLength="70" lengthAdjust="spacingAndGlyphs" stroke="#83b90b" stroke-width="0.3" >H <tspan font-size="7.2">pregrade</tspan> = 220 cm</text>
<text x="972.5" y="384" font-size="9.450000000000001" fill="#83b90b" text-anchor="middle" transform="rotate(-90 972.5 384)" textLength="70" lengthAdjust="spacingAndGlyphs" stroke="#83b90b" stroke-width="0.3" >H <tspan font-size="7.2">pregrade</tspan> = 220 cm</text>
<circle cx="790.4" cy="547.7" r="7.8" fill="none" stroke="#777" stroke-width="0.9"/>
<text x="790.6999999999999" y="551.5" font-size="10.5" fill="#6a6a6a" text-anchor="middle" textLength="11.5" lengthAdjust="spacingAndGlyphs" stroke="#6a6a6a" stroke-width="0.3">06y'</text>
<circle cx="790.4" cy="691.8" r="7.8" fill="none" stroke="#777" stroke-width="0.9"/>
<text x="790.6999999999999" y="695.5999999999999" font-size="10.5" fill="#6a6a6a" text-anchor="middle" textLength="11.5" lengthAdjust="spacingAndGlyphs" stroke="#6a6a6a" stroke-width="0.3">03y'</text>
<circle cx="791.2" cy="835.5" r="7.8" fill="none" stroke="#777" stroke-width="0.9"/>
<text x="791.5" y="839.3" font-size="10.5" fill="#6a6a6a" text-anchor="middle" textLength="11.5" lengthAdjust="spacingAndGlyphs" stroke="#6a6a6a" stroke-width="0.3">01y'</text>
<line x1="721" y1="777.7" x2="1200" y2="777.7" stroke="#555" stroke-width="0.9"/>
<text x="797" y="777.5" font-size="8.5" fill="#111" text-anchor="middle" textLength="11" lengthAdjust="spacingAndGlyphs" stroke="#111" stroke-width="0.35" >487</text>
<text x="1039" y="777.5" font-size="8.5" fill="#111" text-anchor="middle" textLength="15" lengthAdjust="spacingAndGlyphs" stroke="#111" stroke-width="0.35" >1005</text>
<text x="876" y="778" font-size="8.5" fill="#111" text-anchor="middle" stroke="#111" stroke-width="0.35" >5</text>
<path d="M823.6 775.6Q819.6 767.6 825.6 761.6Q834.6 756.6 843.6 761.6Q849.6 767.6 845.6 775.6" stroke="#555" stroke-width="0.7" fill="none" />
<path d="M826.6 770.6Q824.6 764.6 830.6 763.6M842.6 770.6Q844.6 764.6 838.6 763.6" stroke="#777" stroke-width="0.6" fill="none" />
<circle cx="834.6" cy="768.6" r="3.8" fill="#fff" stroke="#444" stroke-width="0.8"/>
<line x1="825.6" y1="771.6" x2="827.1" y2="781.6" stroke="#555" stroke-width="0.8"/>
<line x1="843.6" y1="771.6" x2="842.1" y2="781.6" stroke="#555" stroke-width="0.8"/>
<line x1="827.1" y1="781.6" x2="828.6" y2="778.6" stroke="#555" stroke-width="0.6"/>
<line x1="842.1" y1="781.6" x2="840.6" y2="778.6" stroke="#555" stroke-width="0.6"/>
<rect x="807" y="793" width="50" height="32" stroke="#888" stroke-width="0.8" fill="none" />
<rect x="916.3" y="736.3" width="25.9" height="96.7" stroke="#888" stroke-width="0.9" fill="none" />
<line x1="916.3" y1="768.6" x2="942.1999999999999" y2="768.6" stroke="#888" stroke-width="0.9"/>
<line x1="916.3" y1="801" x2="942.1999999999999" y2="801" stroke="#888" stroke-width="0.9"/>
<rect x="996.4" y="736.3" width="25.9" height="96.7" stroke="#888" stroke-width="0.9" fill="none" />
<line x1="996.4" y1="768.6" x2="1022.3" y2="768.6" stroke="#888" stroke-width="0.9"/>
<line x1="996.4" y1="801" x2="1022.3" y2="801" stroke="#888" stroke-width="0.9"/>
<rect x="1076.5" y="736.3" width="25.9" height="96.7" stroke="#888" stroke-width="0.9" fill="none" />
<line x1="1076.5" y1="768.6" x2="1102.4" y2="768.6" stroke="#888" stroke-width="0.9"/>
<line x1="1076.5" y1="801" x2="1102.4" y2="801" stroke="#888" stroke-width="0.9"/>
<rect x="1156.3" y="736.3" width="25.9" height="96.7" stroke="#888" stroke-width="0.9" fill="none" />
<line x1="1156.3" y1="768.6" x2="1182.2" y2="768.6" stroke="#888" stroke-width="0.9"/>
<line x1="1156.3" y1="801" x2="1182.2" y2="801" stroke="#888" stroke-width="0.9"/>
<rect x="989.2" y="540.5" width="25.3" height="39" stroke="#777" stroke-width="0.8" fill="none" />
<line x1="991.5" y1="542.5" x2="991.5" y2="556.5" stroke="#111" stroke-width="1.4" stroke-dasharray="2 1"/>
<rect x="1066" y="540.5" width="26.5" height="39" stroke="#777" stroke-width="0.8" fill="none" />
<line x1="1068.3" y1="542.5" x2="1068.3" y2="556.5" stroke="#111" stroke-width="1.4" stroke-dasharray="2 1"/>
<rect x="1097.5" y="540.5" width="25" height="39" stroke="#777" stroke-width="0.8" fill="none" />
<line x1="1099.8" y1="542.5" x2="1099.8" y2="556.5" stroke="#111" stroke-width="1.4" stroke-dasharray="2 1"/>
<rect x="1168" y="540.5" width="27" height="39" stroke="#777" stroke-width="0.8" fill="none" />
<line x1="1170.3" y1="542.5" x2="1170.3" y2="556.5" stroke="#111" stroke-width="1.4" stroke-dasharray="2 1"/>
<rect x="1016.6" y="547.4" width="41.7" height="32" stroke="#777" stroke-width="0.8" fill="none" />
<rect x="1126" y="547.4" width="41" height="32" stroke="#777" stroke-width="0.8" fill="none" />
<path d="M1023.7 545.2Q1019.7 537.2 1025.7 531.2Q1034.7 526.2 1043.7 531.2Q1049.7 537.2 1045.7 545.2" stroke="#555" stroke-width="0.7" fill="none" />
<path d="M1026.7 540.2Q1024.7 534.2 1030.7 533.2M1042.7 540.2Q1044.7 534.2 1038.7 533.2" stroke="#777" stroke-width="0.6" fill="none" />
<circle cx="1034.7" cy="538.2" r="3.8" fill="#fff" stroke="#444" stroke-width="0.8"/>
<line x1="1025.7" y1="541.2" x2="1027.2" y2="551.2" stroke="#555" stroke-width="0.8"/>
<line x1="1043.7" y1="541.2" x2="1042.2" y2="551.2" stroke="#555" stroke-width="0.8"/>
<line x1="1027.2" y1="551.2" x2="1028.7" y2="548.2" stroke="#555" stroke-width="0.6"/>
<line x1="1042.2" y1="551.2" x2="1040.7" y2="548.2" stroke="#555" stroke-width="0.6"/>
<path d="M1138.8 538.6Q1134.8 530.6 1140.8 524.6Q1149.8 519.6 1158.8 524.6Q1164.8 530.6 1160.8 538.6" stroke="#555" stroke-width="0.7" fill="none" />
<path d="M1141.8 533.6Q1139.8 527.6 1145.8 526.6M1157.8 533.6Q1159.8 527.6 1153.8 526.6" stroke="#777" stroke-width="0.6" fill="none" />
<circle cx="1149.8" cy="531.6" r="3.8" fill="#fff" stroke="#444" stroke-width="0.8"/>
<line x1="1140.8" y1="534.6" x2="1142.3" y2="544.6" stroke="#555" stroke-width="0.8"/>
<line x1="1158.8" y1="534.6" x2="1157.3" y2="544.6" stroke="#555" stroke-width="0.8"/>
<line x1="1142.3" y1="544.6" x2="1143.8" y2="541.6" stroke="#555" stroke-width="0.6"/>
<line x1="1157.3" y1="544.6" x2="1155.8" y2="541.6" stroke="#555" stroke-width="0.6"/>
<rect x="997.2" y="582" width="26.1" height="63.6" stroke="#888" stroke-width="0.9" fill="none" />
<line x1="997.2" y1="613.3" x2="1023.3000000000001" y2="613.3" stroke="#888" stroke-width="0.9"/>
<rect x="1077" y="582" width="26.1" height="63.6" stroke="#888" stroke-width="0.9" fill="none" />
<line x1="1077" y1="613.3" x2="1103.1" y2="613.3" stroke="#888" stroke-width="0.9"/>
<rect x="1157.6" y="582" width="26.1" height="63.6" stroke="#888" stroke-width="0.9" fill="none" />
<line x1="1157.6" y1="613.3" x2="1183.6999999999998" y2="613.3" stroke="#888" stroke-width="0.9"/>
<text x="1103" y="591" font-size="9.450000000000001" fill="#83b90b" text-anchor="middle" textLength="70" lengthAdjust="spacingAndGlyphs" stroke="#83b90b" stroke-width="0.3" >H <tspan font-size="7.2">pregrade</tspan> = 220 cm</text>
<text x="1057.5" y="706" font-size="9.450000000000001" fill="#83b90b" text-anchor="middle" textLength="85" lengthAdjust="spacingAndGlyphs" stroke="#83b90b" stroke-width="0.3" >H <tspan font-size="7.2">k.konstrukcije</tspan> = 440 cm</text>
<text x="1085" y="459" font-size="9.450000000000001" fill="#83b90b" text-anchor="middle" textLength="85" lengthAdjust="spacingAndGlyphs" stroke="#83b90b" stroke-width="0.3" >H <tspan font-size="7.2">k.konstrukcije</tspan> = 440 cm</text>
<line x1="1008.5" y1="259" x2="1008.5" y2="839" stroke="#444" stroke-width="1.1"/>
<text x="1005" y="420" font-size="8.5" fill="#111" text-anchor="middle" transform="rotate(-90 1005 420)" textLength="15" lengthAdjust="spacingAndGlyphs" stroke="#111" stroke-width="0.35" >1000</text>
<text x="1005" y="706" font-size="8.5" fill="#111" text-anchor="middle" transform="rotate(-90 1005 706)" textLength="11" lengthAdjust="spacingAndGlyphs" stroke="#111" stroke-width="0.35" >803</text>
<rect x="1002.3" y="307.4" width="58.3" height="48.2" stroke="#aaa" stroke-width="0.8" fill="none" />
<rect x="1008.3" y="355.6" width="47.3" height="34.9" stroke="#aaa" stroke-width="0.8" fill="none" />
<rect x="1023.5" y="259" width="16.1" height="16.4" stroke="#aaa" stroke-width="0.8" fill="none" />
<rect x="1028.3" y="267" width="7" height="96.5" stroke="#999" stroke-width="0.8" fill="#fff" />
<circle cx="1031.8" cy="267.5" r="3.2" fill="#fff" stroke="#888" stroke-width="0.8"/>
<rect x="1065.1" y="259" width="58.5" height="19.9" stroke="#888" stroke-width="0.8" fill="none" />
<rect x="1123.6" y="259" width="16" height="99.5" stroke="#999" stroke-width="0.8" fill="none" />
<line x1="1123.6" y1="310.1" x2="1139.6" y2="310.1" stroke="#999" stroke-width="0.8"/>
<rect x="1183.3" y="295.4" width="16.7" height="25.8" stroke="#aaa" stroke-width="0.8" fill="none" />
<line x1="1183.3" y1="303.2" x2="1200" y2="303.2" stroke="#aaa" stroke-width="0.8"/>
<rect x="1177.5" y="339.6" width="22.5" height="38.9" stroke="#777" stroke-width="0.8" fill="none" />
<rect x="1123.2" y="425.4" width="76.8" height="44" stroke="#999" stroke-width="0.8" fill="none" />
<line x1="1161.7" y1="425.4" x2="1161.7" y2="489" stroke="#999" stroke-width="0.8"/>
<line x1="1123.2" y1="457.2" x2="1200" y2="457.2" stroke="#999" stroke-width="0.8"/>
<line x1="1123.2" y1="469.4" x2="1123.2" y2="489" stroke="#999" stroke-width="0.8"/>
<line x1="1123.2" y1="489" x2="1200" y2="489" stroke="#999" stroke-width="0.8"/>
<line x1="975" y1="328.3" x2="1200" y2="328.3" stroke="#555" stroke-width="0.9"/>
<text x="1088" y="328.5" font-size="8.5" fill="#111" text-anchor="middle" textLength="11" lengthAdjust="spacingAndGlyphs" stroke="#111" stroke-width="0.35" >700</text>
<text x="975" y="340" font-size="8.5" fill="#111" text-anchor="middle" stroke="#111" stroke-width="0.35" >5</text>
<line x1="1171.4" y1="259" x2="1171.4" y2="839" stroke="#555" stroke-width="1"/>
<text x="1170.8" y="270" font-size="9" fill="#111" text-anchor="middle" transform="rotate(-90 1170.8 270)" textLength="17.5" lengthAdjust="spacingAndGlyphs" stroke="#111" stroke-width="0.35" >45 43</text>
<text x="1170.8" y="361" font-size="9" fill="#111" text-anchor="middle" transform="rotate(-90 1170.8 361)" textLength="10.5" lengthAdjust="spacingAndGlyphs" stroke="#111" stroke-width="0.35" >520</text>
<text x="1170.8" y="446.5" font-size="9" fill="#111" text-anchor="middle" transform="rotate(-90 1170.8 446.5)" textLength="7.0" lengthAdjust="spacingAndGlyphs" stroke="#111" stroke-width="0.35" >15</text>
<text x="1170.8" y="548" font-size="9" fill="#111" text-anchor="middle" transform="rotate(-90 1170.8 548)" textLength="10.5" lengthAdjust="spacingAndGlyphs" stroke="#111" stroke-width="0.35" >605</text>
<text x="1170.8" y="644.3" font-size="9" fill="#111" text-anchor="middle" transform="rotate(-90 1170.8 644.3)" textLength="7.0" lengthAdjust="spacingAndGlyphs" stroke="#111" stroke-width="0.35" >15</text>
<text x="1170.8" y="741" font-size="9" fill="#111" text-anchor="middle" transform="rotate(-90 1170.8 741)" textLength="10.5" lengthAdjust="spacingAndGlyphs" stroke="#111" stroke-width="0.35" >580</text>
<text x="1170.8" y="835.5" font-size="9" fill="#111" text-anchor="middle" transform="rotate(-90 1170.8 835.5)" textLength="7.0" lengthAdjust="spacingAndGlyphs" stroke="#111" stroke-width="0.35" >15</text>
<line x1="1198.6" y1="259" x2="1198.6" y2="905" stroke="#999" stroke-width="0.9" stroke-dasharray="7.8 1.6 0.8 1.6"/>
<line x1="1200.6" y1="259" x2="1200.6" y2="839" stroke="#888" stroke-width="0.9"/>
<line x1="1198.5" y1="197" x2="1198.5" y2="259" stroke="#999" stroke-width="0.9" stroke-dasharray="7.8 1.6 0.8 1.6"/>
<line x1="1150" y1="275.5" x2="1265" y2="275.5" stroke="#999" stroke-width="0.9" stroke-dasharray="7.8 1.6 0.8 1.6"/>
<rect x="1195.5" y="271.0" width="9" height="9" stroke="#aaa" stroke-width="0.9" fill="none" />
<rect x="1197.8" y="273.2" width="4.6" height="4.6" stroke="#111" stroke-width="1" fill="#fff" />
<path d="M1200 277.5L1212 293.0H1223" stroke="#83b90b" stroke-width="0.9" fill="none" />
<text x="1224" y="296.0" font-size="9.5" fill="#83b90b" text-anchor="start" textLength="17.5" lengthAdjust="spacingAndGlyphs" stroke="#83b90b" stroke-width="0.3" >Stub</text>
<rect x="1243.5" y="287.5" width="6" height="8" stroke="#83b90b" stroke-width="0.8" fill="none" />
<line x1="1242.5" y1="296.5" x2="1250.5" y2="286.5" stroke="#83b90b" stroke-width="0.8"/>
<text x="1250.5" y="296.0" font-size="9.5" fill="#83b90b" text-anchor="start" textLength="27.5" lengthAdjust="spacingAndGlyphs" stroke="#83b90b" stroke-width="0.3" >150/150</text>
<line x1="1150" y1="446.5" x2="1265" y2="446.5" stroke="#999" stroke-width="0.9" stroke-dasharray="7.8 1.6 0.8 1.6"/>
<rect x="1195.5" y="442.0" width="9" height="9" stroke="#aaa" stroke-width="0.9" fill="none" />
<rect x="1197.8" y="444.2" width="4.6" height="4.6" stroke="#111" stroke-width="1" fill="#fff" />
<path d="M1200 448.5L1212 464.0H1223" stroke="#83b90b" stroke-width="0.9" fill="none" />
<text x="1224" y="467.0" font-size="9.5" fill="#83b90b" text-anchor="start" textLength="17.5" lengthAdjust="spacingAndGlyphs" stroke="#83b90b" stroke-width="0.3" >Stub</text>
<rect x="1243.5" y="458.5" width="6" height="8" stroke="#83b90b" stroke-width="0.8" fill="none" />
<line x1="1242.5" y1="467.5" x2="1250.5" y2="457.5" stroke="#83b90b" stroke-width="0.8"/>
<text x="1250.5" y="467.0" font-size="9.5" fill="#83b90b" text-anchor="start" textLength="27.5" lengthAdjust="spacingAndGlyphs" stroke="#83b90b" stroke-width="0.3" >150/150</text>
<line x1="1150" y1="644.3" x2="1265" y2="644.3" stroke="#999" stroke-width="0.9" stroke-dasharray="7.8 1.6 0.8 1.6"/>
<rect x="1195.5" y="639.8" width="9" height="9" stroke="#aaa" stroke-width="0.9" fill="none" />
<rect x="1197.8" y="642.0" width="4.6" height="4.6" stroke="#111" stroke-width="1" fill="#fff" />
<path d="M1200 646.3L1212 661.8H1223" stroke="#83b90b" stroke-width="0.9" fill="none" />
<text x="1224" y="664.8" font-size="9.5" fill="#83b90b" text-anchor="start" textLength="17.5" lengthAdjust="spacingAndGlyphs" stroke="#83b90b" stroke-width="0.3" >Stub</text>
<rect x="1243.5" y="656.3" width="6" height="8" stroke="#83b90b" stroke-width="0.8" fill="none" />
<line x1="1242.5" y1="665.3" x2="1250.5" y2="655.3" stroke="#83b90b" stroke-width="0.8"/>
<text x="1250.5" y="664.8" font-size="9.5" fill="#83b90b" text-anchor="start" textLength="27.5" lengthAdjust="spacingAndGlyphs" stroke="#83b90b" stroke-width="0.3" >150/150</text>
<line x1="1150" y1="835.5" x2="1265" y2="835.5" stroke="#999" stroke-width="0.9" stroke-dasharray="7.8 1.6 0.8 1.6"/>
<rect x="1195.5" y="831.0" width="9" height="9" stroke="#aaa" stroke-width="0.9" fill="none" />
<rect x="1197.8" y="833.2" width="4.6" height="4.6" stroke="#111" stroke-width="1" fill="#fff" />
<path d="M1200 837.5L1212 853.0H1223" stroke="#83b90b" stroke-width="0.9" fill="none" />
<text x="1224" y="856.0" font-size="9.5" fill="#83b90b" text-anchor="start" textLength="17.5" lengthAdjust="spacingAndGlyphs" stroke="#83b90b" stroke-width="0.3" >Stub</text>
<rect x="1243.5" y="847.5" width="6" height="8" stroke="#83b90b" stroke-width="0.8" fill="none" />
<line x1="1242.5" y1="856.5" x2="1250.5" y2="846.5" stroke="#83b90b" stroke-width="0.8"/>
<text x="1250.5" y="856.0" font-size="9.5" fill="#83b90b" text-anchor="start" textLength="27.5" lengthAdjust="spacingAndGlyphs" stroke="#83b90b" stroke-width="0.3" >150/150</text>
<path d="M1200 712L1212 728H1223" stroke="#83b90b" stroke-width="0.9" fill="none" />
<text x="1224" y="731" font-size="9.5" fill="#83b90b" text-anchor="start" textLength="23" lengthAdjust="spacingAndGlyphs" stroke="#83b90b" stroke-width="0.3" >Platno</text>
<line x1="1244.6" y1="275.5" x2="1244.6" y2="839" stroke="#666" stroke-width="1"/>
<line x1="1257.3" y1="275.5" x2="1257.3" y2="839" stroke="#666" stroke-width="1"/>
<line x1="1270.5" y1="259" x2="1270.5" y2="839" stroke="#555" stroke-width="1"/>
<text x="1243" y="361" font-size="8.5" fill="#111" text-anchor="middle" transform="rotate(-90 1243 361)" textLength="11" lengthAdjust="spacingAndGlyphs" stroke="#111" stroke-width="0.35" >535</text>
<text x="1243" y="548" font-size="8.5" fill="#111" text-anchor="middle" transform="rotate(-90 1243 548)" textLength="11" lengthAdjust="spacingAndGlyphs" stroke="#111" stroke-width="0.35" >620</text>
<text x="1256" y="558" font-size="8.5" fill="#111" text-anchor="middle" transform="rotate(-90 1256 558)" textLength="15" lengthAdjust="spacingAndGlyphs" stroke="#111" stroke-width="0.35" >1750</text>
<text x="1269" y="548" font-size="8.5" fill="#111" text-anchor="middle" transform="rotate(-90 1269 548)" textLength="15" lengthAdjust="spacingAndGlyphs" stroke="#111" stroke-width="0.35" >1810</text>
<text x="1243" y="741" font-size="8.5" fill="#111" text-anchor="middle" transform="rotate(-90 1243 741)" textLength="11" lengthAdjust="spacingAndGlyphs" stroke="#111" stroke-width="0.35" >595</text>
<rect x="1217.2" y="490.2" width="27.7" height="48.2" stroke="#777" stroke-width="0.9" fill="#fff" />
<rect x="1244.9" y="507.7" width="11" height="30.7" stroke="#999" stroke-width="0.8" fill="none" />
<text x="1237.3" y="514.3" font-size="10.5" fill="#000" text-anchor="middle" transform="rotate(-90 1237.3 514.3)" textLength="35" lengthAdjust="spacingAndGlyphs" >GREJAČ</text>
<rect x="1217.2" y="596.3" width="27.7" height="48.2" stroke="#777" stroke-width="0.9" fill="#fff" />
<rect x="1244.9" y="613.8" width="11" height="30.7" stroke="#999" stroke-width="0.8" fill="none" />
<text x="1237.3" y="620.4" font-size="10.5" fill="#000" text-anchor="middle" transform="rotate(-90 1237.3 620.4)" textLength="35" lengthAdjust="spacingAndGlyphs" >GREJAČ</text>
<path d="M1287.9 547.5L1277.9 566.3L1287.9 587Z" stroke="#83b90b" stroke-width="1" fill="none" />
<text x="1300" y="567.5" font-size="10" fill="#83b90b" text-anchor="middle" transform="rotate(-90 1300 567.5)" textLength="40" lengthAdjust="spacingAndGlyphs" stroke="#83b90b" stroke-width="0.3" >IZGLED 2</text>
<rect x="1268.2" y="320.2" width="30.5" height="80.3" stroke="#aaa" stroke-width="0.8" fill="none" />
<rect x="1269.5" y="332.6" width="29.2" height="54.6" stroke="#555" stroke-width="0.8" fill="none" />
<line x1="1269.8" y1="333" x2="1269.8" y2="387" stroke="#555" stroke-width="2"/>
<line x1="1284.4" y1="333" x2="1284.4" y2="390" stroke="#888" stroke-width="0.7"/>
<line x1="1269.5" y1="360.5" x2="1298.7" y2="360.5" stroke="#888" stroke-width="0.7"/>
<rect x="1282.3" y="353.3" width="15.9" height="12.9" fill="#666"/>
<line x1="1285.5" y1="353.3" x2="1285.5" y2="366.2" stroke="#222" stroke-width="0.6"/>
<line x1="1282.3" y1="355.90000000000003" x2="1298.2" y2="355.90000000000003" stroke="#222" stroke-width="0.6"/>
<line x1="1288.7" y1="353.3" x2="1288.7" y2="366.2" stroke="#222" stroke-width="0.6"/>
<line x1="1282.3" y1="358.5" x2="1298.2" y2="358.5" stroke="#222" stroke-width="0.6"/>
<line x1="1291.8999999999999" y1="353.3" x2="1291.8999999999999" y2="366.2" stroke="#222" stroke-width="0.6"/>
<line x1="1282.3" y1="361.1" x2="1298.2" y2="361.1" stroke="#222" stroke-width="0.6"/>
<line x1="1295.1" y1="353.3" x2="1295.1" y2="366.2" stroke="#222" stroke-width="0.6"/>
<line x1="1282.3" y1="363.7" x2="1298.2" y2="363.7" stroke="#222" stroke-width="0.6"/>
<line x1="1298.7" y1="342" x2="1346" y2="342" stroke="#777" stroke-width="0.8"/>
<line x1="1298.7" y1="350.8" x2="1346" y2="350.8" stroke="#777" stroke-width="0.8"/>
<line x1="1298.7" y1="346.4" x2="1322" y2="346.4" stroke="#bbb" stroke-width="0.6"/>
<line x1="1301.3" y1="340.5" x2="1301.3" y2="352.3" stroke="#222" stroke-width="1"/>
<line x1="1309.5" y1="340.5" x2="1309.5" y2="352.3" stroke="#222" stroke-width="1"/>
<path d="M1303 343L1305 349.8L1307 343" stroke="#aaa" stroke-width="0.6" fill="none" />
<line x1="1298.7" y1="369.7" x2="1346" y2="369.7" stroke="#777" stroke-width="0.8"/>
<line x1="1298.7" y1="377.4" x2="1346" y2="377.4" stroke="#777" stroke-width="0.8"/>
<line x1="1298.7" y1="373.54999999999995" x2="1322" y2="373.54999999999995" stroke="#bbb" stroke-width="0.6"/>
<line x1="1301.3" y1="368.2" x2="1301.3" y2="378.9" stroke="#222" stroke-width="1"/>
<line x1="1309.5" y1="368.2" x2="1309.5" y2="378.9" stroke="#222" stroke-width="1"/>
<path d="M1303 370.7L1305 376.4L1307 370.7" stroke="#aaa" stroke-width="0.6" fill="none" />
<path d="M1244.4 340.5L1269.5 333M1244.4 367.6L1269.5 360.5" stroke="#888" stroke-width="1" fill="none" />
<path d="M1247 341Q1250 352 1261 355.5M1247 368.5Q1250 379 1261 382.5" stroke="#777" stroke-width="0.6" fill="none" />
<circle cx="1269.8" cy="333" r="1.2" fill="#333"/>
<circle cx="1269.8" cy="360.5" r="1.2" fill="#333"/>
<circle cx="1269.8" cy="386" r="1.2" fill="#333"/>
<rect x="1349.5" y="341.5" width="9.2" height="36.5" stroke="#555" stroke-width="1" fill="none" />
<line x1="1349.5" y1="350" x2="1358.7" y2="350" stroke="#555" stroke-width="0.8"/>
<line x1="1349.5" y1="366" x2="1358.7" y2="366" stroke="#555" stroke-width="0.8"/>
<line x1="1346" y1="377.5" x2="1360" y2="377.5" stroke="#111" stroke-width="1.2"/>
<line x1="1350.5" y1="378" x2="1349.8" y2="460" stroke="#888" stroke-width="0.7"/>
<line x1="1357.5" y1="378" x2="1358.5" y2="460" stroke="#888" stroke-width="0.7"/>
<line x1="1354" y1="378" x2="1354" y2="490" stroke="#aaa" stroke-width="0.6"/>
<rect x="1349.5" y="460" width="9" height="30" stroke="#666" stroke-width="0.9" fill="none" />
<path d="M1350 478L1353 470H1357L1359 476L1355 478Z" stroke="#111" stroke-width="1" fill="none" />
<text x="1344" y="489.2" font-size="17.6" fill="#000" text-anchor="start" transform="rotate(-90 1344 489.2)" textLength="148.3" lengthAdjust="spacingAndGlyphs" >GRANIGLIATRICE</text>
<path d="M1322.8 652H1300L1297 655V660H1322.8" stroke="#444" stroke-width="0.8" fill="none" />
<path d="M1299 660A37 37 0 0 0 1322.8 692" stroke="#444" stroke-width="0.7" fill="none" />
<path d="M1322.8 692A20 20 0 0 0 1304 708" stroke="#444" stroke-width="0.7" fill="none" />
<path d="M1302 708H1322.8V714H1302Z" stroke="#444" stroke-width="0.8" fill="none" />
<rect x="1278.8" y="685.5" width="19.7" height="14.5" stroke="#333" stroke-width="1" fill="#fff" />
<text x="1288.6" y="697" font-size="10.5" fill="#000" text-anchor="middle" textLength="13" lengthAdjust="spacingAndGlyphs" font-weight="bold" >P5</text>
<line x1="1298.5" y1="692.5" x2="1342" y2="692.5" stroke="#555" stroke-width="0.8"/>
<text x="1316" y="691" font-size="9" fill="#111" text-anchor="start" textLength="14" lengthAdjust="spacingAndGlyphs" stroke="#111" stroke-width="0.35" >220</text>
<text x="1316" y="701" font-size="9" fill="#111" text-anchor="start" textLength="14" lengthAdjust="spacingAndGlyphs" stroke="#111" stroke-width="0.35" >160</text>
<path d="M958 839L946 855H815" stroke="#83b90b" stroke-width="0.9" fill="none" />
<text x="815.5" y="854" font-size="9.5" fill="#83b90b" text-anchor="start" textLength="115.5" lengthAdjust="spacingAndGlyphs" stroke="#83b90b" stroke-width="0.3" >Platno ojačano čeličnim profilima</text>
</svg></body></html>
